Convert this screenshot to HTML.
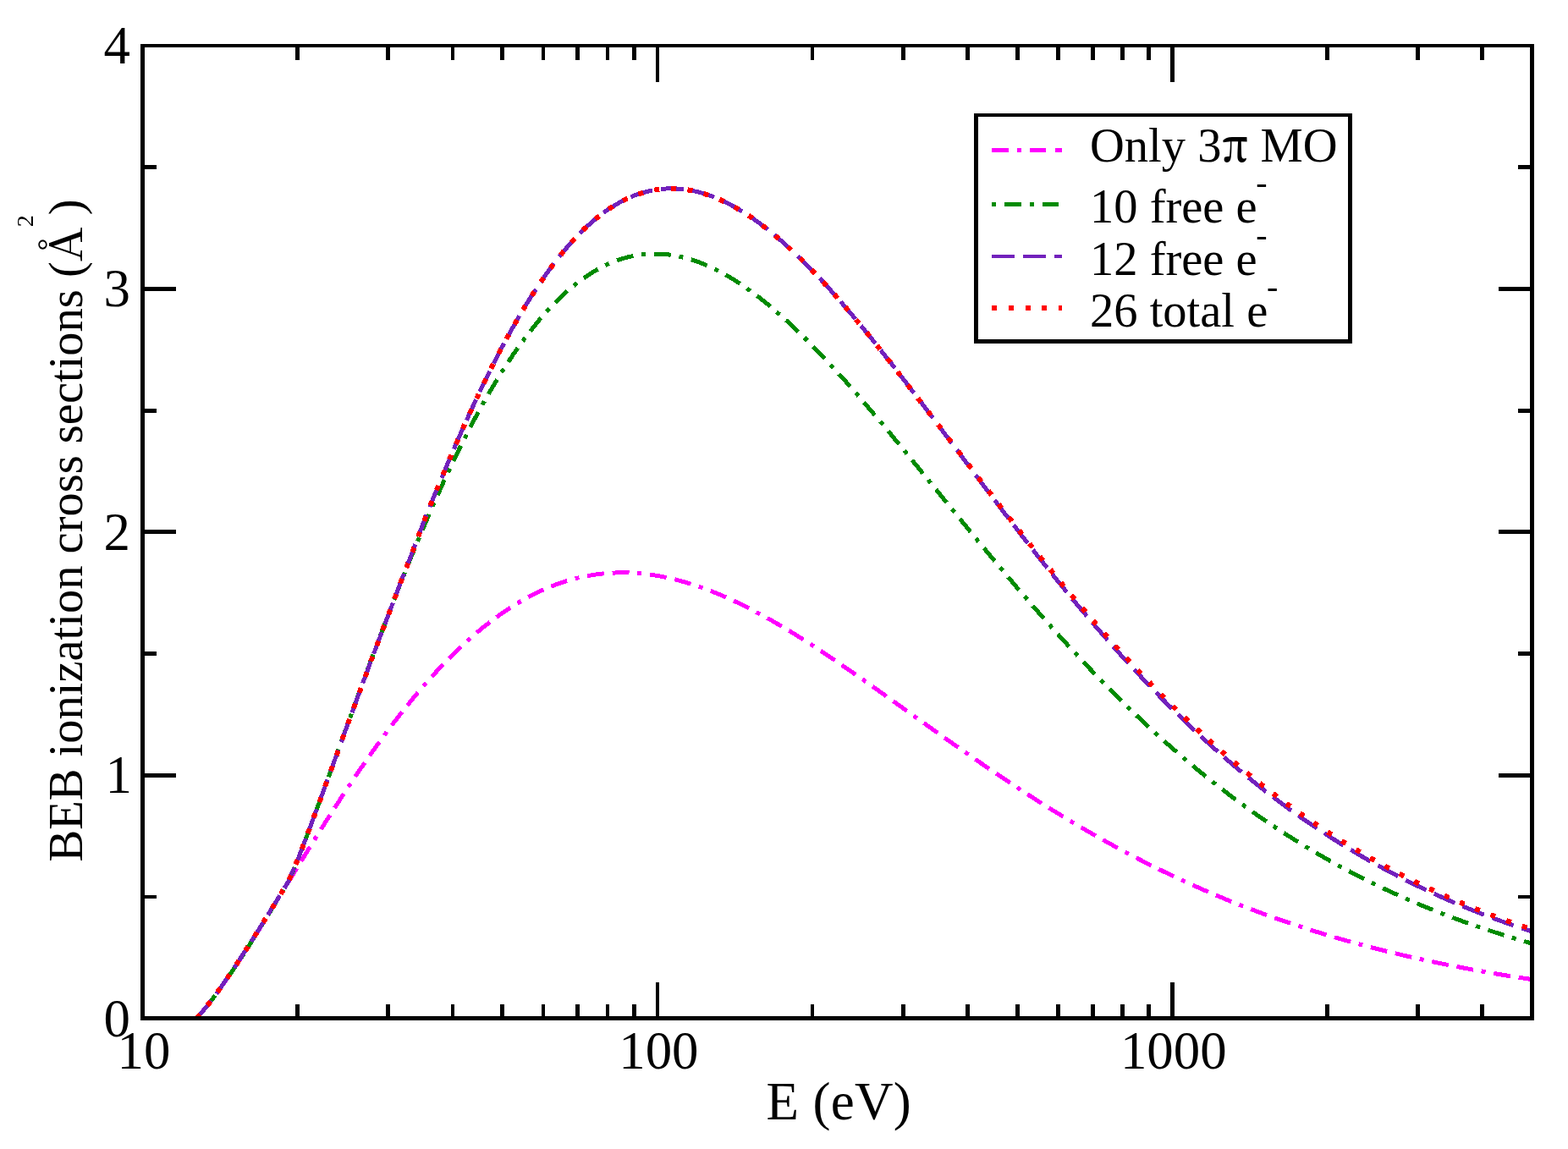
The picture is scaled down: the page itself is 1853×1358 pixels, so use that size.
<!DOCTYPE html>
<html lang="en"><head><meta charset="utf-8"><title>BEB ionization cross sections</title>
<style>
html,body{margin:0;padding:0;background:#fff;}
body{width:1853px;height:1358px;overflow:hidden;}
svg{display:block;}
text{font-family:"Liberation Serif","DejaVu Serif",serif;fill:#000;}
.ax{stroke:#000;fill:none;shape-rendering:crispEdges;}
.cv{fill:none;shape-rendering:crispEdges;stroke-linecap:butt;stroke-linejoin:round;}
.tk{font-size:62.9px;}
.lg{font-size:56.5px;}
</style></head><body>
<svg width="1853" height="1358" viewBox="0 0 1853 1358">
<rect x="0" y="0" width="1853" height="1358" fill="#fff"/>
<defs><clipPath id="plot"><rect x="166" y="52" width="1647" height="1154"/></clipPath></defs>

<g clip-path="url(#plot)">
<path class="cv" d="M232.4,1203.5 L233.9,1201.8 L235.4,1200.1 L236.9,1198.3 L238.4,1196.5 L239.9,1194.7 L241.4,1192.9 L242.9,1191.0 L244.4,1189.2 L245.9,1187.3 L247.4,1185.4 L248.9,1183.4 L250.4,1181.5 L251.9,1179.5 L253.4,1177.5 L254.9,1175.5 L256.4,1173.4 L257.9,1171.4 L259.4,1169.3 L260.9,1167.2 L262.4,1165.1 L263.9,1163.0 L265.4,1160.9 L266.9,1158.8 L268.4,1156.6 L269.9,1154.4 L271.4,1152.2 L272.9,1150.0 L274.4,1147.8 L275.9,1145.6 L277.4,1143.4 L278.9,1141.1 L280.4,1138.9 L281.9,1136.6 L283.4,1134.3 L284.9,1132.0 L286.4,1129.7 L287.9,1127.4 L289.4,1125.1 L290.9,1122.8 L292.4,1120.4 L293.9,1118.1 L295.4,1115.7 L296.9,1113.4 L298.4,1111.0 L299.9,1108.7 L301.4,1106.3 L302.9,1103.9 L304.4,1101.5 L305.9,1099.1 L307.4,1096.7 L308.9,1094.3 L310.4,1091.9 L311.9,1089.5 L313.4,1087.1 L314.9,1084.6 L316.4,1082.2 L317.9,1079.8 L319.4,1077.4 L320.9,1074.9 L322.4,1072.5 L323.9,1070.1 L325.4,1067.6 L326.9,1065.2 L328.4,1062.7 L329.9,1060.3 L331.4,1057.8 L332.9,1055.4 L334.4,1052.9 L335.9,1050.5 L337.4,1048.0 L338.9,1045.6 L340.4,1043.1 L341.9,1040.7 L343.4,1038.2 L344.9,1035.8 L346.4,1033.3 L347.9,1030.9 L349.4,1028.5 L350.9,1026.0 L352.4,1023.6 L353.9,1021.1 L355.4,1018.7 L356.9,1016.3 L358.4,1013.8 L359.9,1011.4 L361.4,1009.0 L362.9,1006.5 L364.4,1004.1 L365.9,1001.7 L367.4,999.3 L368.9,996.9 L370.4,994.5 L371.9,992.0 L373.4,989.6 L374.9,987.2 L376.4,984.9 L377.9,982.5 L379.4,980.1 L380.9,977.7 L382.4,975.3 L383.9,972.9 L385.4,970.6 L386.9,968.2 L388.4,965.9 L389.9,963.5 L391.4,961.2 L392.9,958.8 L394.4,956.5 L395.9,954.2 L397.4,951.8 L398.9,949.5 L400.4,947.2 L401.9,944.9 L403.4,942.6 L404.9,940.3 L406.4,938.0 L407.9,935.7 L409.4,933.5 L410.9,931.2 L412.4,928.9 L413.9,926.7 L415.4,924.4 L416.9,922.2 L418.4,920.0 L419.9,917.7 L421.4,915.5 L422.9,913.3 L424.4,911.1 L425.9,908.9 L427.4,906.7 L428.9,904.5 L430.4,902.4 L431.9,900.2 L433.4,898.0 L434.9,895.9 L436.4,893.8 L437.9,891.6 L439.4,889.5 L440.9,887.4 L442.4,885.3 L443.9,883.2 L445.4,881.1 L446.9,879.0 L448.4,876.9 L449.9,874.9 L451.4,872.8 L452.9,870.8 L454.4,868.7 L455.9,866.7 L457.4,864.7 L458.9,862.7 L460.4,860.7 L461.9,858.7 L463.4,856.7 L464.9,854.7 L466.4,852.8 L467.9,850.8 L469.4,848.9 L470.9,846.9 L472.4,845.0 L473.9,843.1 L475.4,841.2 L476.9,839.3 L478.4,837.4 L479.9,835.5 L481.4,833.7 L482.9,831.8 L484.4,830.0 L485.9,828.1 L487.4,826.3 L488.9,824.5 L490.4,822.7 L491.9,820.9 L493.4,819.1 L494.9,817.3 L496.4,815.6 L497.9,813.8 L499.4,812.1 L500.9,810.3 L502.4,808.6 L503.9,806.9 L505.4,805.2 L506.9,803.5 L508.4,801.8 L509.9,800.2 L511.4,798.5 L512.9,796.8 L514.4,795.2 L515.9,793.6 L517.4,792.0 L518.9,790.4 L520.4,788.8 L521.9,787.2 L523.4,785.6 L524.9,784.0 L526.4,782.5 L527.9,781.0 L529.4,779.4 L530.9,777.9 L532.4,776.4 L533.9,774.9 L535.4,773.4 L536.9,771.9 L538.4,770.5 L539.9,769.0 L541.4,767.6 L542.9,766.2 L544.4,764.7 L545.9,763.3 L547.4,761.9 L548.9,760.6 L550.4,759.2 L551.9,757.8 L553.4,756.5 L554.9,755.1 L556.4,753.8 L557.9,752.5 L559.4,751.2 L560.9,749.9 L562.4,748.6 L563.9,747.3 L565.4,746.1 L566.9,744.8 L568.4,743.6 L569.9,742.4 L571.4,741.1 L572.9,739.9 L574.4,738.8 L575.9,737.6 L577.4,736.4 L578.9,735.3 L580.4,734.1 L581.9,733.0 L583.4,731.9 L584.9,730.7 L586.4,729.6 L587.9,728.6 L589.4,727.5 L590.9,726.4 L592.4,725.4 L593.9,724.3 L595.4,723.3 L596.9,722.3 L598.4,721.3 L599.9,720.3 L601.4,719.3 L602.9,718.3 L604.4,717.4 L605.9,716.4 L607.4,715.5 L608.9,714.5 L610.4,713.6 L611.9,712.7 L613.4,711.8 L614.9,711.0 L616.4,710.1 L617.9,709.2 L619.4,708.4 L620.9,707.6 L622.4,706.7 L623.9,705.9 L625.4,705.1 L626.9,704.3 L628.4,703.6 L629.9,702.8 L631.4,702.1 L632.9,701.3 L634.4,700.6 L635.9,699.9 L637.4,699.2 L638.9,698.5 L640.4,697.8 L641.9,697.1 L643.4,696.4 L644.9,695.8 L646.4,695.2 L647.9,694.5 L649.4,693.9 L650.9,693.3 L652.4,692.7 L653.9,692.1 L655.4,691.6 L656.9,691.0 L658.4,690.4 L659.9,689.9 L661.4,689.4 L662.9,688.9 L664.4,688.4 L665.9,687.9 L667.4,687.4 L668.9,686.9 L670.4,686.5 L671.9,686.0 L673.4,685.6 L674.9,685.1 L676.4,684.7 L677.9,684.3 L679.4,683.9 L680.9,683.6 L682.4,683.2 L683.9,682.8 L685.4,682.5 L686.9,682.1 L688.4,681.8 L689.9,681.5 L691.4,681.2 L692.9,680.9 L694.4,680.6 L695.9,680.3 L697.4,680.1 L698.9,679.8 L700.4,679.6 L701.9,679.3 L703.4,679.1 L704.9,678.9 L706.4,678.7 L707.9,678.5 L709.4,678.3 L710.9,678.2 L712.4,678.0 L713.9,677.8 L715.4,677.7 L716.9,677.6 L718.4,677.5 L719.9,677.4 L721.4,677.3 L722.9,677.2 L724.4,677.1 L725.9,677.0 L727.4,677.0 L728.9,676.9 L730.4,676.9 L731.9,676.9 L733.4,676.8 L734.9,676.8 L736.4,676.8 L737.9,676.8 L739.4,676.9 L740.9,676.9 L742.4,676.9 L743.9,677.0 L745.4,677.0 L746.9,677.1 L748.4,677.2 L749.9,677.3 L751.4,677.4 L752.9,677.5 L754.4,677.6 L755.9,677.7 L757.4,677.9 L758.9,678.0 L760.4,678.2 L761.9,678.3 L763.4,678.5 L764.9,678.7 L766.4,678.9 L767.9,679.1 L769.4,679.3 L770.9,679.5 L772.4,679.7 L773.9,680.0 L775.4,680.2 L776.9,680.5 L778.4,680.7 L779.9,681.0 L781.4,681.3 L782.9,681.6 L784.4,681.9 L785.9,682.2 L787.4,682.5 L788.9,682.8 L790.4,683.1 L791.9,683.5 L793.4,683.8 L794.9,684.2 L796.4,684.5 L797.9,684.9 L799.4,685.3 L800.9,685.7 L802.4,686.1 L803.9,686.5 L805.4,686.9 L806.9,687.3 L808.4,687.7 L809.9,688.2 L811.4,688.6 L812.9,689.1 L814.4,689.5 L815.9,690.0 L817.4,690.5 L818.9,690.9 L820.4,691.4 L821.9,691.9 L823.4,692.4 L824.9,692.9 L826.4,693.5 L827.9,694.0 L829.4,694.5 L830.9,695.1 L832.4,695.6 L833.9,696.2 L835.4,696.7 L836.9,697.3 L838.4,697.9 L839.9,698.4 L841.4,699.0 L842.9,699.6 L844.4,700.2 L845.9,700.8 L847.4,701.4 L848.9,702.1 L850.4,702.7 L851.9,703.3 L853.4,704.0 L854.9,704.6 L856.4,705.3 L857.9,705.9 L859.4,706.6 L860.9,707.3 L862.4,707.9 L863.9,708.6 L865.4,709.3 L866.9,710.0 L868.4,710.7 L869.9,711.4 L871.4,712.1 L872.9,712.9 L874.4,713.6 L875.9,714.3 L877.4,715.0 L878.9,715.8 L880.4,716.5 L881.9,717.3 L883.4,718.0 L884.9,718.8 L886.4,719.6 L887.9,720.3 L889.4,721.1 L890.9,721.9 L892.4,722.7 L893.9,723.5 L895.4,724.3 L896.9,725.1 L898.4,725.9 L899.9,726.7 L901.4,727.5 L902.9,728.4 L904.4,729.2 L905.9,730.0 L907.4,730.9 L908.9,731.7 L910.4,732.6 L911.9,733.4 L913.4,734.3 L914.9,735.1 L916.4,736.0 L917.9,736.9 L919.4,737.7 L920.9,738.6 L922.4,739.5 L923.9,740.4 L925.4,741.3 L926.9,742.2 L928.4,743.1 L929.9,744.0 L931.4,744.9 L932.9,745.8 L934.4,746.7 L935.9,747.6 L937.4,748.5 L938.9,749.4 L940.4,750.4 L941.9,751.3 L943.4,752.2 L944.9,753.2 L946.4,754.1 L947.9,755.0 L949.4,756.0 L950.9,756.9 L952.4,757.9 L953.9,758.9 L955.4,759.8 L956.9,760.8 L958.4,761.7 L959.9,762.7 L961.4,763.7 L962.9,764.7 L964.4,765.6 L965.9,766.6 L967.4,767.6 L968.9,768.6 L970.4,769.6 L971.9,770.6 L973.4,771.6 L974.9,772.6 L976.4,773.6 L977.9,774.6 L979.4,775.6 L980.9,776.6 L982.4,777.6 L983.9,778.6 L985.4,779.6 L986.9,780.6 L988.4,781.6 L989.9,782.6 L991.4,783.7 L992.9,784.7 L994.4,785.7 L995.9,786.7 L997.4,787.8 L998.9,788.8 L1000.4,789.8 L1001.9,790.9 L1003.4,791.9 L1004.9,792.9 L1006.4,794.0 L1007.9,795.0 L1009.4,796.1 L1010.9,797.1 L1012.4,798.1 L1013.9,799.2 L1015.4,800.2 L1016.9,801.3 L1018.4,802.3 L1019.9,803.4 L1021.4,804.4 L1022.9,805.5 L1024.4,806.5 L1025.9,807.6 L1027.4,808.7 L1028.9,809.7 L1030.4,810.8 L1031.9,811.8 L1033.4,812.9 L1034.9,814.0 L1036.4,815.0 L1037.9,816.1 L1039.4,817.2 L1040.9,818.2 L1042.4,819.3 L1043.9,820.4 L1045.4,821.4 L1046.9,822.5 L1048.4,823.6 L1049.9,824.6 L1051.4,825.7 L1052.9,826.8 L1054.4,827.8 L1055.9,828.9 L1057.4,830.0 L1058.9,831.0 L1060.4,832.1 L1061.9,833.2 L1063.4,834.3 L1064.9,835.3 L1066.4,836.4 L1067.9,837.5 L1069.4,838.6 L1070.9,839.6 L1072.4,840.7 L1073.9,841.8 L1075.4,842.8 L1076.9,843.9 L1078.4,845.0 L1079.9,846.1 L1081.4,847.1 L1082.9,848.2 L1084.4,849.3 L1085.9,850.4 L1087.4,851.4 L1088.9,852.5 L1090.4,853.6 L1091.9,854.6 L1093.4,855.7 L1094.9,856.8 L1096.4,857.9 L1097.9,858.9 L1099.4,860.0 L1100.9,861.1 L1102.4,862.1 L1103.9,863.2 L1105.4,864.3 L1106.9,865.3 L1108.4,866.4 L1109.9,867.5 L1111.4,868.5 L1112.9,869.6 L1114.4,870.7 L1115.9,871.7 L1117.4,872.8 L1118.9,873.8 L1120.4,874.9 L1121.9,876.0 L1123.4,877.0 L1124.9,878.1 L1126.4,879.1 L1127.9,880.2 L1129.4,881.2 L1130.9,882.3 L1132.4,883.3 L1133.9,884.4 L1135.4,885.5 L1136.9,886.5 L1138.4,887.5 L1139.9,888.6 L1141.4,889.6 L1142.9,890.7 L1144.4,891.7 L1145.9,892.8 L1147.4,893.8 L1148.9,894.9 L1150.4,895.9 L1151.9,896.9 L1153.4,898.0 L1154.9,899.0 L1156.4,900.0 L1157.9,901.1 L1159.4,902.1 L1160.9,903.1 L1162.4,904.2 L1163.9,905.2 L1165.4,906.2 L1166.9,907.2 L1168.4,908.3 L1169.9,909.3 L1171.4,910.3 L1172.9,911.3 L1174.4,912.3 L1175.9,913.3 L1177.4,914.4 L1178.9,915.4 L1180.4,916.4 L1181.9,917.4 L1183.4,918.4 L1184.9,919.4 L1186.4,920.4 L1187.9,921.4 L1189.4,922.4 L1190.9,923.4 L1192.4,924.4 L1193.9,925.4 L1195.4,926.4 L1196.9,927.4 L1198.4,928.4 L1199.9,929.4 L1201.4,930.3 L1202.9,931.3 L1204.4,932.3 L1205.9,933.3 L1207.4,934.3 L1208.9,935.2 L1210.4,936.2 L1211.9,937.2 L1213.4,938.2 L1214.9,939.1 L1216.4,940.1 L1217.9,941.1 L1219.4,942.0 L1220.9,943.0 L1222.4,943.9 L1223.9,944.9 L1225.4,945.9 L1226.9,946.8 L1228.4,947.8 L1229.9,948.7 L1231.4,949.7 L1232.9,950.6 L1234.4,951.6 L1235.9,952.5 L1237.4,953.4 L1238.9,954.4 L1240.4,955.3 L1241.9,956.2 L1243.4,957.2 L1244.9,958.1 L1246.4,959.0 L1247.9,959.9 L1249.4,960.9 L1250.9,961.8 L1252.4,962.7 L1253.9,963.6 L1255.4,964.5 L1256.9,965.4 L1258.4,966.4 L1259.9,967.3 L1261.4,968.2 L1262.9,969.1 L1264.4,970.0 L1265.9,970.9 L1267.4,971.8 L1268.9,972.7 L1270.4,973.6 L1271.9,974.4 L1273.4,975.3 L1274.9,976.2 L1276.4,977.1 L1277.9,978.0 L1279.4,978.9 L1280.9,979.7 L1282.4,980.6 L1283.9,981.5 L1285.4,982.3 L1286.9,983.2 L1288.4,984.1 L1289.9,984.9 L1291.4,985.8 L1292.9,986.7 L1294.4,987.5 L1295.9,988.4 L1297.4,989.2 L1298.9,990.1 L1300.4,990.9 L1301.9,991.7 L1303.4,992.6 L1304.9,993.4 L1306.4,994.3 L1307.9,995.1 L1309.4,995.9 L1310.9,996.8 L1312.4,997.6 L1313.9,998.4 L1315.4,999.2 L1316.9,1000.1 L1318.4,1000.9 L1319.9,1001.7 L1321.4,1002.5 L1322.9,1003.3 L1324.4,1004.1 L1325.9,1004.9 L1327.4,1005.7 L1328.9,1006.5 L1330.4,1007.3 L1331.9,1008.1 L1333.4,1008.9 L1334.9,1009.7 L1336.4,1010.5 L1337.9,1011.3 L1339.4,1012.1 L1340.9,1012.9 L1342.4,1013.6 L1343.9,1014.4 L1345.4,1015.2 L1346.9,1016.0 L1348.4,1016.7 L1349.9,1017.5 L1351.4,1018.3 L1352.9,1019.0 L1354.4,1019.8 L1355.9,1020.5 L1357.4,1021.3 L1358.9,1022.1 L1360.4,1022.8 L1361.9,1023.6 L1363.4,1024.3 L1364.9,1025.0 L1366.4,1025.8 L1367.9,1026.5 L1369.4,1027.3 L1370.9,1028.0 L1372.4,1028.7 L1373.9,1029.5 L1375.4,1030.2 L1376.9,1030.9 L1378.4,1031.6 L1379.9,1032.4 L1381.4,1033.1 L1382.9,1033.8 L1384.4,1034.5 L1385.9,1035.2 L1387.4,1035.9 L1388.9,1036.6 L1390.4,1037.3 L1391.9,1038.0 L1393.4,1038.7 L1394.9,1039.4 L1396.4,1040.1 L1397.9,1040.8 L1399.4,1041.5 L1400.9,1042.2 L1402.4,1042.9 L1403.9,1043.6 L1405.4,1044.2 L1406.9,1044.9 L1408.4,1045.6 L1409.9,1046.3 L1411.4,1046.9 L1412.9,1047.6 L1414.4,1048.3 L1415.9,1048.9 L1417.4,1049.6 L1418.9,1050.3 L1420.4,1050.9 L1421.9,1051.6 L1423.4,1052.2 L1424.9,1052.9 L1426.4,1053.5 L1427.9,1054.2 L1429.4,1054.8 L1430.9,1055.5 L1432.4,1056.1 L1433.9,1056.7 L1435.4,1057.4 L1436.9,1058.0 L1438.4,1058.6 L1439.9,1059.3 L1441.4,1059.9 L1442.9,1060.5 L1444.4,1061.1 L1445.9,1061.7 L1447.4,1062.4 L1448.9,1063.0 L1450.4,1063.6 L1451.9,1064.2 L1453.4,1064.8 L1454.9,1065.4 L1456.4,1066.0 L1457.9,1066.6 L1459.4,1067.2 L1460.9,1067.8 L1462.4,1068.4 L1463.9,1069.0 L1465.4,1069.6 L1466.9,1070.2 L1468.4,1070.8 L1469.9,1071.3 L1471.4,1071.9 L1472.9,1072.5 L1474.4,1073.1 L1475.9,1073.7 L1477.4,1074.2 L1478.9,1074.8 L1480.4,1075.4 L1481.9,1075.9 L1483.4,1076.5 L1484.9,1077.1 L1486.4,1077.6 L1487.9,1078.2 L1489.4,1078.7 L1490.9,1079.3 L1492.4,1079.8 L1493.9,1080.4 L1495.4,1080.9 L1496.9,1081.5 L1498.4,1082.0 L1499.9,1082.6 L1501.4,1083.1 L1502.9,1083.6 L1504.4,1084.2 L1505.9,1084.7 L1507.4,1085.2 L1508.9,1085.8 L1510.4,1086.3 L1511.9,1086.8 L1513.4,1087.3 L1514.9,1087.9 L1516.4,1088.4 L1517.9,1088.9 L1519.4,1089.4 L1520.9,1089.9 L1522.4,1090.4 L1523.9,1090.9 L1525.4,1091.4 L1526.9,1092.0 L1528.4,1092.5 L1529.9,1093.0 L1531.4,1093.5 L1532.9,1094.0 L1534.4,1094.4 L1535.9,1094.9 L1537.4,1095.4 L1538.9,1095.9 L1540.4,1096.4 L1541.9,1096.9 L1543.4,1097.4 L1544.9,1097.9 L1546.4,1098.3 L1547.9,1098.8 L1549.4,1099.3 L1550.9,1099.8 L1552.4,1100.2 L1553.9,1100.7 L1555.4,1101.2 L1556.9,1101.6 L1558.4,1102.1 L1559.9,1102.6 L1561.4,1103.0 L1562.9,1103.5 L1564.4,1103.9 L1565.9,1104.4 L1567.4,1104.8 L1568.9,1105.3 L1570.4,1105.7 L1571.9,1106.2 L1573.4,1106.6 L1574.9,1107.1 L1576.4,1107.5 L1577.9,1108.0 L1579.4,1108.4 L1580.9,1108.8 L1582.4,1109.3 L1583.9,1109.7 L1585.4,1110.1 L1586.9,1110.6 L1588.4,1111.0 L1589.9,1111.4 L1591.4,1111.8 L1592.9,1112.2 L1594.4,1112.7 L1595.9,1113.1 L1597.4,1113.5 L1598.9,1113.9 L1600.4,1114.3 L1601.9,1114.7 L1603.4,1115.2 L1604.9,1115.6 L1606.4,1116.0 L1607.9,1116.4 L1609.4,1116.8 L1610.9,1117.2 L1612.4,1117.6 L1613.9,1118.0 L1615.4,1118.4 L1616.9,1118.8 L1618.4,1119.2 L1619.9,1119.5 L1621.4,1119.9 L1622.9,1120.3 L1624.4,1120.7 L1625.9,1121.1 L1627.4,1121.5 L1628.9,1121.9 L1630.4,1122.2 L1631.9,1122.6 L1633.4,1123.0 L1634.9,1123.4 L1636.4,1123.7 L1637.9,1124.1 L1639.4,1124.5 L1640.9,1124.9 L1642.4,1125.2 L1643.9,1125.6 L1645.4,1126.0 L1646.9,1126.3 L1648.4,1126.7 L1649.9,1127.0 L1651.4,1127.4 L1652.9,1127.7 L1654.4,1128.1 L1655.9,1128.5 L1657.4,1128.8 L1658.9,1129.2 L1660.4,1129.5 L1661.9,1129.9 L1663.4,1130.2 L1664.9,1130.5 L1666.4,1130.9 L1667.9,1131.2 L1669.4,1131.6 L1670.9,1131.9 L1672.4,1132.2 L1673.9,1132.6 L1675.4,1132.9 L1676.9,1133.2 L1678.4,1133.6 L1679.9,1133.9 L1681.4,1134.2 L1682.9,1134.6 L1684.4,1134.9 L1685.9,1135.2 L1687.4,1135.5 L1688.9,1135.8 L1690.4,1136.2 L1691.9,1136.5 L1693.4,1136.8 L1694.9,1137.1 L1696.4,1137.4 L1697.9,1137.7 L1699.4,1138.1 L1700.9,1138.4 L1702.4,1138.7 L1703.9,1139.0 L1705.4,1139.3 L1706.9,1139.6 L1708.4,1139.9 L1709.9,1140.2 L1711.4,1140.5 L1712.9,1140.8 L1714.4,1141.1 L1715.9,1141.4 L1717.4,1141.7 L1718.9,1142.0 L1720.4,1142.3 L1721.9,1142.6 L1723.4,1142.8 L1724.9,1143.1 L1726.4,1143.4 L1727.9,1143.7 L1729.4,1144.0 L1730.9,1144.3 L1732.4,1144.6 L1733.9,1144.8 L1735.4,1145.1 L1736.9,1145.4 L1738.4,1145.7 L1739.9,1146.0 L1741.4,1146.2 L1742.9,1146.5 L1744.4,1146.8 L1745.9,1147.0 L1747.4,1147.3 L1748.9,1147.6 L1750.4,1147.8 L1751.9,1148.1 L1753.4,1148.4 L1754.9,1148.6 L1756.4,1148.9 L1757.9,1149.2 L1759.4,1149.4 L1760.9,1149.7 L1762.4,1149.9 L1763.9,1150.2 L1765.4,1150.5 L1766.9,1150.7 L1768.4,1151.0 L1769.9,1151.2 L1771.4,1151.5 L1772.9,1151.7 L1774.4,1152.0 L1775.9,1152.2 L1777.4,1152.5 L1778.9,1152.7 L1780.4,1153.0 L1781.9,1153.2 L1783.4,1153.4 L1784.9,1153.7 L1786.4,1153.9 L1787.9,1154.2 L1789.4,1154.4 L1790.9,1154.6 L1792.4,1154.9 L1793.9,1155.1 L1795.4,1155.3 L1796.9,1155.6 L1798.4,1155.8 L1799.9,1156.0 L1801.4,1156.3 L1802.9,1156.5 L1804.4,1156.7 L1805.9,1156.9 L1807.4,1157.2 L1808.9,1157.4 L1810.4,1157.6 L1811.9,1157.8 L1813.4,1158.0" stroke="#ff00ff" stroke-width="5" stroke-dasharray="20 9.785 5 9.785 20 9.784" stroke-dashoffset="0"/>
<path class="cv" d="M232.4,1203.5 L233.9,1201.8 L235.4,1200.1 L236.9,1198.3 L238.4,1196.5 L239.9,1194.7 L241.4,1192.9 L242.9,1191.0 L244.4,1189.2 L245.9,1187.3 L247.4,1185.4 L248.9,1183.4 L250.4,1181.5 L251.9,1179.5 L253.4,1177.5 L254.9,1175.5 L256.4,1173.4 L257.9,1171.4 L259.4,1169.3 L260.9,1167.2 L262.4,1165.1 L263.9,1163.0 L265.4,1160.9 L266.9,1158.8 L268.4,1156.6 L269.9,1154.4 L271.4,1152.2 L272.9,1150.0 L274.4,1147.8 L275.9,1145.6 L277.4,1143.4 L278.9,1141.1 L280.4,1138.9 L281.9,1136.6 L283.4,1134.3 L284.9,1132.0 L286.4,1129.7 L287.9,1127.4 L289.4,1125.1 L290.9,1122.8 L292.4,1120.4 L293.9,1118.1 L295.4,1115.7 L296.9,1113.4 L298.4,1111.0 L299.9,1108.7 L301.4,1106.3 L302.9,1103.9 L304.4,1101.5 L305.9,1099.1 L307.4,1096.7 L308.9,1094.3 L310.4,1091.9 L311.9,1089.5 L313.4,1087.1 L314.9,1084.6 L316.4,1082.2 L317.9,1079.8 L319.4,1077.4 L320.9,1074.9 L322.4,1072.5 L323.9,1070.1 L325.4,1067.6 L326.9,1065.2 L328.4,1062.7 L329.9,1060.3 L331.4,1057.8 L332.9,1055.4 L334.4,1052.9 L335.9,1050.5 L337.4,1048.0 L338.9,1045.6 L340.4,1043.0 L341.9,1039.5 L343.4,1036.1 L344.9,1032.6 L346.4,1029.1 L347.9,1025.6 L349.4,1022.1 L350.9,1018.6 L352.4,1015.0 L353.9,1011.1 L355.4,1007.2 L356.9,1003.2 L358.4,999.3 L359.9,995.3 L361.4,991.3 L362.9,987.3 L364.4,983.3 L365.9,979.3 L367.4,975.2 L368.9,971.2 L370.4,967.1 L371.9,963.1 L373.4,959.0 L374.9,954.9 L376.4,950.8 L377.9,946.7 L379.4,942.6 L380.9,938.5 L382.4,934.4 L383.9,930.3 L385.4,926.2 L386.9,922.0 L388.4,917.9 L389.9,913.8 L391.4,909.6 L392.9,905.5 L394.4,901.3 L395.9,897.2 L397.4,893.1 L398.9,888.9 L400.4,884.8 L401.9,880.6 L403.4,876.5 L404.9,872.3 L406.4,868.2 L407.9,864.1 L409.4,859.9 L410.9,855.8 L412.4,851.6 L413.9,847.5 L415.4,843.4 L416.9,839.3 L418.4,835.1 L419.9,831.0 L421.4,826.9 L422.9,822.8 L424.4,818.7 L425.9,814.6 L427.4,810.5 L428.9,806.4 L430.4,802.4 L431.9,798.3 L433.4,794.2 L434.9,790.2 L436.4,786.1 L437.9,782.1 L439.4,778.1 L440.9,774.0 L442.4,770.0 L443.9,766.0 L445.4,762.0 L446.9,758.0 L448.4,754.0 L449.9,750.1 L451.4,746.1 L452.9,742.2 L454.4,738.2 L455.9,734.3 L457.4,730.4 L458.9,726.5 L460.4,722.6 L461.9,718.7 L463.4,714.8 L464.9,710.9 L466.4,707.1 L467.9,703.3 L469.4,699.4 L470.9,695.6 L472.4,691.8 L473.9,688.0 L475.4,684.3 L476.9,680.5 L478.4,676.7 L479.9,673.0 L481.4,669.3 L482.9,665.6 L484.4,661.9 L485.9,658.2 L487.4,654.6 L488.9,650.9 L490.4,647.3 L491.9,643.7 L493.4,640.1 L494.9,636.5 L496.4,632.9 L497.9,629.3 L499.4,625.8 L500.9,622.3 L502.4,618.7 L503.9,615.3 L505.4,611.8 L506.9,608.3 L508.4,604.9 L509.9,601.4 L511.4,598.0 L512.9,594.6 L514.4,591.2 L515.9,587.9 L517.4,584.5 L518.9,581.2 L520.4,577.9 L521.9,574.6 L523.4,571.3 L524.9,568.0 L526.4,564.8 L527.9,561.6 L529.4,558.4 L530.9,555.2 L532.4,552.0 L533.9,548.9 L535.4,545.7 L536.9,542.6 L538.4,539.5 L539.9,536.4 L541.4,533.4 L542.9,530.3 L544.4,527.3 L545.9,524.3 L547.4,521.3 L548.9,518.3 L550.4,515.4 L551.9,512.4 L553.4,509.5 L554.9,506.6 L556.4,503.8 L557.9,500.9 L559.4,498.1 L560.9,495.2 L562.4,492.4 L563.9,489.7 L565.4,486.9 L566.9,484.2 L568.4,481.5 L569.9,478.8 L571.4,476.1 L572.9,473.4 L574.4,470.8 L575.9,468.1 L577.4,465.5 L578.9,463.0 L580.4,460.4 L581.9,457.9 L583.4,455.3 L584.9,452.8 L586.4,450.4 L587.9,447.9 L589.4,445.5 L590.9,443.0 L592.4,440.6 L593.9,438.3 L595.4,435.9 L596.9,433.6 L598.4,431.2 L599.9,428.9 L601.4,426.7 L602.9,424.4 L604.4,422.2 L605.9,419.9 L607.4,417.7 L608.9,415.6 L610.4,413.4 L611.9,411.3 L613.4,409.2 L614.9,407.1 L616.4,405.0 L617.9,402.9 L619.4,400.9 L620.9,398.9 L622.4,396.9 L623.9,394.9 L625.4,393.0 L626.9,391.1 L628.4,389.2 L629.9,387.3 L631.4,385.4 L632.9,383.6 L634.4,381.7 L635.9,379.9 L637.4,378.1 L638.9,376.4 L640.4,374.6 L641.9,372.9 L643.4,371.2 L644.9,369.5 L646.4,367.9 L647.9,366.2 L649.4,364.6 L650.9,363.0 L652.4,361.4 L653.9,359.9 L655.4,358.4 L656.9,356.8 L658.4,355.3 L659.9,353.9 L661.4,352.4 L662.9,351.0 L664.4,349.6 L665.9,348.2 L667.4,346.8 L668.9,345.5 L670.4,344.1 L671.9,342.8 L673.4,341.5 L674.9,340.3 L676.4,339.0 L677.9,337.8 L679.4,336.6 L680.9,335.4 L682.4,334.2 L683.9,333.1 L685.4,332.0 L686.9,330.9 L688.4,329.8 L689.9,328.7 L691.4,327.7 L692.9,326.6 L694.4,325.6 L695.9,324.6 L697.4,323.7 L698.9,322.7 L700.4,321.8 L701.9,320.9 L703.4,320.0 L704.9,319.1 L706.4,318.3 L707.9,317.5 L709.4,316.7 L710.9,315.9 L712.4,315.1 L713.9,314.4 L715.4,313.6 L716.9,312.9 L718.4,312.2 L719.9,311.6 L721.4,310.9 L722.9,310.3 L724.4,309.7 L725.9,309.1 L727.4,308.5 L728.9,308.0 L730.4,307.4 L731.9,306.9 L733.4,306.4 L734.9,305.9 L736.4,305.5 L737.9,305.0 L739.4,304.6 L740.9,304.2 L742.4,303.8 L743.9,303.5 L745.4,303.1 L746.9,302.8 L748.4,302.5 L749.9,302.2 L751.4,301.9 L752.9,301.6 L754.4,301.4 L755.9,301.2 L757.4,301.0 L758.9,300.8 L760.4,300.6 L761.9,300.5 L763.4,300.4 L764.9,300.3 L766.4,300.2 L767.9,300.1 L769.4,300.0 L770.9,300.0 L772.4,300.0 L773.9,300.0 L775.4,300.0 L776.9,300.0 L778.4,300.0 L779.9,300.1 L781.4,300.2 L782.9,300.3 L784.4,300.4 L785.9,300.5 L787.4,300.7 L788.9,300.8 L790.4,301.0 L791.9,301.2 L793.4,301.4 L794.9,301.7 L796.4,301.9 L797.9,302.2 L799.4,302.4 L800.9,302.7 L802.4,303.0 L803.9,303.4 L805.4,303.7 L806.9,304.1 L808.4,304.4 L809.9,304.8 L811.4,305.2 L812.9,305.7 L814.4,306.1 L815.9,306.6 L817.4,307.0 L818.9,307.5 L820.4,308.0 L821.9,308.5 L823.4,309.0 L824.9,309.6 L826.4,310.1 L827.9,310.7 L829.4,311.3 L830.9,311.9 L832.4,312.5 L833.9,313.1 L835.4,313.8 L836.9,314.4 L838.4,315.1 L839.9,315.8 L841.4,316.5 L842.9,317.2 L844.4,317.9 L845.9,318.7 L847.4,319.4 L848.9,320.2 L850.4,321.0 L851.9,321.8 L853.4,322.6 L854.9,323.4 L856.4,324.2 L857.9,325.1 L859.4,325.9 L860.9,326.8 L862.4,327.7 L863.9,328.6 L865.4,329.5 L866.9,330.4 L868.4,331.4 L869.9,332.3 L871.4,333.3 L872.9,334.3 L874.4,335.2 L875.9,336.2 L877.4,337.2 L878.9,338.3 L880.4,339.3 L881.9,340.3 L883.4,341.4 L884.9,342.5 L886.4,343.5 L887.9,344.6 L889.4,345.7 L890.9,346.8 L892.4,348.0 L893.9,349.1 L895.4,350.2 L896.9,351.4 L898.4,352.6 L899.9,353.7 L901.4,354.9 L902.9,356.1 L904.4,357.3 L905.9,358.6 L907.4,359.8 L908.9,361.0 L910.4,362.3 L911.9,363.5 L913.4,364.8 L914.9,366.1 L916.4,367.4 L917.9,368.6 L919.4,370.0 L920.9,371.3 L922.4,372.6 L923.9,373.9 L925.4,375.3 L926.9,376.6 L928.4,378.0 L929.9,379.3 L931.4,380.7 L932.9,382.1 L934.4,383.5 L935.9,384.9 L937.4,386.3 L938.9,387.7 L940.4,389.2 L941.9,390.6 L943.4,392.0 L944.9,393.5 L946.4,395.0 L947.9,396.4 L949.4,397.9 L950.9,399.4 L952.4,400.9 L953.9,402.4 L955.4,403.9 L956.9,405.4 L958.4,406.9 L959.9,408.4 L961.4,410.0 L962.9,411.5 L964.4,413.1 L965.9,414.6 L967.4,416.2 L968.9,417.7 L970.4,419.3 L971.9,420.9 L973.4,422.5 L974.9,424.1 L976.4,425.7 L977.9,427.3 L979.4,428.9 L980.9,430.5 L982.4,432.1 L983.9,433.7 L985.4,435.4 L986.9,437.0 L988.4,438.7 L989.9,440.3 L991.4,442.0 L992.9,443.6 L994.4,445.3 L995.9,447.0 L997.4,448.6 L998.9,450.3 L1000.4,452.0 L1001.9,453.7 L1003.4,455.4 L1004.9,457.1 L1006.4,458.8 L1007.9,460.5 L1009.4,462.2 L1010.9,463.9 L1012.4,465.6 L1013.9,467.4 L1015.4,469.1 L1016.9,470.8 L1018.4,472.6 L1019.9,474.3 L1021.4,476.0 L1022.9,477.8 L1024.4,479.5 L1025.9,481.3 L1027.4,483.1 L1028.9,484.8 L1030.4,486.6 L1031.9,488.4 L1033.4,490.1 L1034.9,491.9 L1036.4,493.7 L1037.9,495.5 L1039.4,497.2 L1040.9,499.0 L1042.4,500.8 L1043.9,502.6 L1045.4,504.4 L1046.9,506.2 L1048.4,508.0 L1049.9,509.8 L1051.4,511.6 L1052.9,513.4 L1054.4,515.2 L1055.9,517.0 L1057.4,518.9 L1058.9,520.7 L1060.4,522.5 L1061.9,524.3 L1063.4,526.1 L1064.9,527.9 L1066.4,529.8 L1067.9,531.6 L1069.4,533.4 L1070.9,535.3 L1072.4,537.1 L1073.9,538.9 L1075.4,540.7 L1076.9,542.6 L1078.4,544.4 L1079.9,546.3 L1081.4,548.1 L1082.9,549.9 L1084.4,551.8 L1085.9,553.6 L1087.4,555.4 L1088.9,557.3 L1090.4,559.1 L1091.9,561.0 L1093.4,562.8 L1094.9,564.7 L1096.4,566.5 L1097.9,568.4 L1099.4,570.2 L1100.9,572.0 L1102.4,573.9 L1103.9,575.7 L1105.4,577.6 L1106.9,579.4 L1108.4,581.3 L1109.9,583.1 L1111.4,585.0 L1112.9,586.8 L1114.4,588.7 L1115.9,590.5 L1117.4,592.4 L1118.9,594.2 L1120.4,596.0 L1121.9,597.9 L1123.4,599.7 L1124.9,601.6 L1126.4,603.4 L1127.9,605.3 L1129.4,607.1 L1130.9,608.9 L1132.4,610.8 L1133.9,612.6 L1135.4,614.5 L1136.9,616.3 L1138.4,618.1 L1139.9,620.0 L1141.4,621.8 L1142.9,623.6 L1144.4,625.5 L1145.9,627.3 L1147.4,629.1 L1148.9,631.0 L1150.4,632.8 L1151.9,634.6 L1153.4,636.4 L1154.9,638.3 L1156.4,640.1 L1157.9,641.9 L1159.4,643.7 L1160.9,645.6 L1162.4,647.4 L1163.9,649.2 L1165.4,651.0 L1166.9,652.8 L1168.4,654.6 L1169.9,656.4 L1171.4,658.2 L1172.9,660.0 L1174.4,661.8 L1175.9,663.6 L1177.4,665.4 L1178.9,667.2 L1180.4,669.0 L1181.9,670.8 L1183.4,672.6 L1184.9,674.4 L1186.4,676.2 L1187.9,678.0 L1189.4,679.7 L1190.9,681.5 L1192.4,683.3 L1193.9,685.1 L1195.4,686.8 L1196.9,688.6 L1198.4,690.4 L1199.9,692.1 L1201.4,693.9 L1202.9,695.6 L1204.4,697.4 L1205.9,699.2 L1207.4,700.9 L1208.9,702.7 L1210.4,704.4 L1211.9,706.1 L1213.4,707.9 L1214.9,709.6 L1216.4,711.4 L1217.9,713.1 L1219.4,714.8 L1220.9,716.5 L1222.4,718.3 L1223.9,720.0 L1225.4,721.7 L1226.9,723.4 L1228.4,725.1 L1229.9,726.8 L1231.4,728.5 L1232.9,730.2 L1234.4,731.9 L1235.9,733.6 L1237.4,735.3 L1238.9,737.0 L1240.4,738.7 L1241.9,740.4 L1243.4,742.1 L1244.9,743.7 L1246.4,745.4 L1247.9,747.1 L1249.4,748.8 L1250.9,750.4 L1252.4,752.1 L1253.9,753.7 L1255.4,755.4 L1256.9,757.0 L1258.4,758.7 L1259.9,760.3 L1261.4,762.0 L1262.9,763.6 L1264.4,765.2 L1265.9,766.9 L1267.4,768.5 L1268.9,770.1 L1270.4,771.7 L1271.9,773.3 L1273.4,775.0 L1274.9,776.6 L1276.4,778.2 L1277.9,779.8 L1279.4,781.4 L1280.9,783.0 L1282.4,784.5 L1283.9,786.1 L1285.4,787.7 L1286.9,789.3 L1288.4,790.9 L1289.9,792.4 L1291.4,794.0 L1292.9,795.6 L1294.4,797.1 L1295.9,798.7 L1297.4,800.2 L1298.9,801.8 L1300.4,803.3 L1301.9,804.9 L1303.4,806.4 L1304.9,807.9 L1306.4,809.5 L1307.9,811.0 L1309.4,812.5 L1310.9,814.0 L1312.4,815.5 L1313.9,817.1 L1315.4,818.6 L1316.9,820.1 L1318.4,821.6 L1319.9,823.1 L1321.4,824.5 L1322.9,826.0 L1324.4,827.5 L1325.9,829.0 L1327.4,830.5 L1328.9,831.9 L1330.4,833.4 L1331.9,834.9 L1333.4,836.3 L1334.9,837.8 L1336.4,839.2 L1337.9,840.7 L1339.4,842.1 L1340.9,843.5 L1342.4,845.0 L1343.9,846.4 L1345.4,847.8 L1346.9,849.3 L1348.4,850.7 L1349.9,852.1 L1351.4,853.5 L1352.9,854.9 L1354.4,856.3 L1355.9,857.7 L1357.4,859.1 L1358.9,860.5 L1360.4,861.9 L1361.9,863.3 L1363.4,864.6 L1364.9,866.0 L1366.4,867.4 L1367.9,868.7 L1369.4,870.1 L1370.9,871.5 L1372.4,872.8 L1373.9,874.2 L1375.4,875.5 L1376.9,876.8 L1378.4,878.2 L1379.9,879.5 L1381.4,880.8 L1382.9,882.2 L1384.4,883.5 L1385.9,884.8 L1387.4,886.1 L1388.9,887.4 L1390.4,888.7 L1391.9,890.0 L1393.4,891.3 L1394.9,892.6 L1396.4,893.9 L1397.9,895.2 L1399.4,896.5 L1400.9,897.7 L1402.4,899.0 L1403.9,900.3 L1405.4,901.5 L1406.9,902.8 L1408.4,904.1 L1409.9,905.3 L1411.4,906.6 L1412.9,907.8 L1414.4,909.0 L1415.9,910.3 L1417.4,911.5 L1418.9,912.7 L1420.4,913.9 L1421.9,915.2 L1423.4,916.4 L1424.9,917.6 L1426.4,918.8 L1427.9,920.0 L1429.4,921.2 L1430.9,922.4 L1432.4,923.6 L1433.9,924.8 L1435.4,925.9 L1436.9,927.1 L1438.4,928.3 L1439.9,929.5 L1441.4,930.6 L1442.9,931.8 L1444.4,933.0 L1445.9,934.1 L1447.4,935.3 L1448.9,936.4 L1450.4,937.5 L1451.9,938.7 L1453.4,939.8 L1454.9,941.0 L1456.4,942.1 L1457.9,943.2 L1459.4,944.3 L1460.9,945.4 L1462.4,946.5 L1463.9,947.6 L1465.4,948.8 L1466.9,949.9 L1468.4,950.9 L1469.9,952.0 L1471.4,953.1 L1472.9,954.2 L1474.4,955.3 L1475.9,956.4 L1477.4,957.4 L1478.9,958.5 L1480.4,959.6 L1481.9,960.6 L1483.4,961.7 L1484.9,962.7 L1486.4,963.8 L1487.9,964.8 L1489.4,965.9 L1490.9,966.9 L1492.4,967.9 L1493.9,969.0 L1495.4,970.0 L1496.9,971.0 L1498.4,972.0 L1499.9,973.0 L1501.4,974.1 L1502.9,975.1 L1504.4,976.1 L1505.9,977.1 L1507.4,978.1 L1508.9,979.1 L1510.4,980.0 L1511.9,981.0 L1513.4,982.0 L1514.9,983.0 L1516.4,984.0 L1517.9,984.9 L1519.4,985.9 L1520.9,986.9 L1522.4,987.8 L1523.9,988.8 L1525.4,989.7 L1526.9,990.7 L1528.4,991.6 L1529.9,992.6 L1531.4,993.5 L1532.9,994.4 L1534.4,995.4 L1535.9,996.3 L1537.4,997.2 L1538.9,998.1 L1540.4,999.0 L1541.9,1000.0 L1543.4,1000.9 L1544.9,1001.8 L1546.4,1002.7 L1547.9,1003.6 L1549.4,1004.5 L1550.9,1005.4 L1552.4,1006.2 L1553.9,1007.1 L1555.4,1008.0 L1556.9,1008.9 L1558.4,1009.8 L1559.9,1010.6 L1561.4,1011.5 L1562.9,1012.4 L1564.4,1013.2 L1565.9,1014.1 L1567.4,1014.9 L1568.9,1015.8 L1570.4,1016.6 L1571.9,1017.5 L1573.4,1018.3 L1574.9,1019.1 L1576.4,1020.0 L1577.9,1020.8 L1579.4,1021.6 L1580.9,1022.5 L1582.4,1023.3 L1583.9,1024.1 L1585.4,1024.9 L1586.9,1025.7 L1588.4,1026.5 L1589.9,1027.3 L1591.4,1028.1 L1592.9,1028.9 L1594.4,1029.7 L1595.9,1030.5 L1597.4,1031.3 L1598.9,1032.1 L1600.4,1032.9 L1601.9,1033.6 L1603.4,1034.4 L1604.9,1035.2 L1606.4,1036.0 L1607.9,1036.7 L1609.4,1037.5 L1610.9,1038.2 L1612.4,1039.0 L1613.9,1039.8 L1615.4,1040.5 L1616.9,1041.3 L1618.4,1042.0 L1619.9,1042.7 L1621.4,1043.5 L1622.9,1044.2 L1624.4,1044.9 L1625.9,1045.7 L1627.4,1046.4 L1628.9,1047.1 L1630.4,1047.8 L1631.9,1048.6 L1633.4,1049.3 L1634.9,1050.0 L1636.4,1050.7 L1637.9,1051.4 L1639.4,1052.1 L1640.9,1052.8 L1642.4,1053.5 L1643.9,1054.2 L1645.4,1054.9 L1646.9,1055.6 L1648.4,1056.2 L1649.9,1056.9 L1651.4,1057.6 L1652.9,1058.3 L1654.4,1058.9 L1655.9,1059.6 L1657.4,1060.3 L1658.9,1060.9 L1660.4,1061.6 L1661.9,1062.3 L1663.4,1062.9 L1664.9,1063.6 L1666.4,1064.2 L1667.9,1064.9 L1669.4,1065.5 L1670.9,1066.2 L1672.4,1066.8 L1673.9,1067.4 L1675.4,1068.1 L1676.9,1068.7 L1678.4,1069.3 L1679.9,1070.0 L1681.4,1070.6 L1682.9,1071.2 L1684.4,1071.8 L1685.9,1072.4 L1687.4,1073.0 L1688.9,1073.7 L1690.4,1074.3 L1691.9,1074.9 L1693.4,1075.5 L1694.9,1076.1 L1696.4,1076.7 L1697.9,1077.3 L1699.4,1077.9 L1700.9,1078.4 L1702.4,1079.0 L1703.9,1079.6 L1705.4,1080.2 L1706.9,1080.8 L1708.4,1081.4 L1709.9,1081.9 L1711.4,1082.5 L1712.9,1083.1 L1714.4,1083.6 L1715.9,1084.2 L1717.4,1084.8 L1718.9,1085.3 L1720.4,1085.9 L1721.9,1086.4 L1723.4,1087.0 L1724.9,1087.5 L1726.4,1088.1 L1727.9,1088.6 L1729.4,1089.2 L1730.9,1089.7 L1732.4,1090.2 L1733.9,1090.8 L1735.4,1091.3 L1736.9,1091.8 L1738.4,1092.4 L1739.9,1092.9 L1741.4,1093.4 L1742.9,1093.9 L1744.4,1094.5 L1745.9,1095.0 L1747.4,1095.5 L1748.9,1096.0 L1750.4,1096.5 L1751.9,1097.0 L1753.4,1097.5 L1754.9,1098.0 L1756.4,1098.5 L1757.9,1099.0 L1759.4,1099.5 L1760.9,1100.0 L1762.4,1100.5 L1763.9,1101.0 L1765.4,1101.5 L1766.9,1102.0 L1768.4,1102.5 L1769.9,1102.9 L1771.4,1103.4 L1772.9,1103.9 L1774.4,1104.4 L1775.9,1104.8 L1777.4,1105.3 L1778.9,1105.8 L1780.4,1106.2 L1781.9,1106.7 L1783.4,1107.2 L1784.9,1107.6 L1786.4,1108.1 L1787.9,1108.5 L1789.4,1109.0 L1790.9,1109.5 L1792.4,1109.9 L1793.9,1110.3 L1795.4,1110.8 L1796.9,1111.2 L1798.4,1111.7 L1799.9,1112.1 L1801.4,1112.6 L1802.9,1113.0 L1804.4,1113.4 L1805.9,1113.9 L1807.4,1114.3 L1808.9,1114.7 L1810.4,1115.1 L1811.9,1115.6 L1813.4,1116.0" stroke="#008b00" stroke-width="5" stroke-dasharray="5 9.82 20 9.821" stroke-dashoffset="0"/>
<path class="cv" d="M232.4,1203.5 L233.9,1201.8 L235.4,1200.1 L236.9,1198.3 L238.4,1196.6 L239.9,1194.8 L241.4,1192.9 L242.9,1191.1 L244.4,1189.2 L245.9,1187.3 L247.4,1185.4 L248.9,1183.4 L250.4,1181.4 L251.9,1179.4 L253.4,1177.4 L254.9,1175.3 L256.4,1173.3 L257.9,1171.2 L259.4,1169.1 L260.9,1167.0 L262.4,1164.8 L263.9,1162.7 L265.4,1160.5 L266.9,1158.4 L268.4,1156.2 L269.9,1154.0 L271.4,1151.8 L272.9,1149.6 L274.4,1147.3 L275.9,1145.1 L277.4,1142.8 L278.9,1140.6 L280.4,1138.3 L281.9,1136.0 L283.4,1133.7 L284.9,1131.4 L286.4,1129.1 L287.9,1126.8 L289.4,1124.5 L290.9,1122.1 L292.4,1119.8 L293.9,1117.5 L295.4,1115.1 L296.9,1112.7 L298.4,1110.4 L299.9,1108.0 L301.4,1105.6 L302.9,1103.2 L304.4,1100.8 L305.9,1098.5 L307.4,1096.1 L308.9,1093.7 L310.4,1091.2 L311.9,1088.8 L313.4,1086.4 L314.9,1084.0 L316.4,1081.6 L317.9,1079.2 L319.4,1076.7 L320.9,1074.3 L322.4,1071.9 L323.9,1069.5 L325.4,1067.0 L326.9,1064.6 L328.4,1062.2 L329.9,1059.7 L331.4,1057.3 L332.9,1054.9 L334.4,1052.4 L335.9,1050.0 L337.4,1047.6 L338.9,1045.1 L340.4,1042.5 L341.9,1039.1 L343.4,1035.6 L344.9,1032.2 L346.4,1028.7 L347.9,1025.2 L349.4,1021.7 L350.9,1018.2 L352.4,1014.7 L353.9,1010.8 L355.4,1006.9 L356.9,1003.0 L358.4,999.0 L359.9,995.0 L361.4,991.1 L362.9,987.1 L364.4,983.1 L365.9,979.1 L367.4,975.1 L368.9,971.0 L370.4,967.0 L371.9,963.0 L373.4,958.9 L374.9,954.8 L376.4,950.8 L377.9,946.7 L379.4,942.6 L380.9,938.5 L382.4,934.4 L383.9,930.3 L385.4,926.2 L386.9,922.1 L388.4,918.0 L389.9,913.9 L391.4,909.8 L392.9,905.7 L394.4,901.5 L395.9,897.4 L397.4,893.3 L398.9,889.1 L400.4,885.0 L401.9,880.9 L403.4,876.8 L404.9,872.6 L406.4,868.5 L407.9,864.4 L409.4,860.3 L410.9,856.1 L412.4,852.0 L413.9,847.9 L415.4,843.8 L416.9,839.7 L418.4,835.6 L419.9,831.5 L421.4,827.4 L422.9,823.3 L424.4,819.2 L425.9,815.1 L427.4,811.0 L428.9,806.9 L430.4,802.9 L431.9,798.8 L433.4,794.8 L434.9,790.7 L436.4,786.7 L437.9,782.6 L439.4,778.6 L440.9,774.6 L442.4,770.6 L443.9,766.6 L445.4,762.6 L446.9,758.6 L448.4,754.6 L449.9,750.6 L451.4,746.7 L452.9,742.7 L454.4,738.7 L455.9,734.8 L457.4,730.8 L458.9,726.9 L460.4,722.9 L461.9,718.9 L463.4,715.0 L464.9,711.0 L466.4,707.0 L467.9,703.1 L469.4,699.1 L470.9,695.2 L472.4,691.2 L473.9,687.3 L475.4,683.4 L476.9,679.5 L478.4,675.6 L479.9,671.7 L481.4,667.8 L482.9,664.0 L484.4,660.1 L485.9,656.3 L487.4,652.4 L488.9,648.3 L490.4,644.3 L491.9,640.2 L493.4,636.2 L494.9,632.3 L496.4,628.3 L497.9,624.4 L499.4,620.5 L500.9,616.7 L502.4,612.8 L503.9,609.0 L505.4,605.2 L506.9,601.5 L508.4,597.8 L509.9,594.0 L511.4,590.4 L512.9,586.7 L514.4,583.0 L515.9,579.4 L517.4,575.7 L518.9,572.1 L520.4,568.5 L521.9,564.9 L523.4,561.3 L524.9,557.7 L526.4,554.1 L527.9,550.6 L529.4,547.0 L530.9,543.5 L532.4,540.0 L533.9,536.5 L535.4,533.0 L536.9,529.5 L538.4,526.1 L539.9,522.6 L541.4,519.2 L542.9,515.8 L544.4,512.3 L545.9,509.0 L547.4,505.6 L548.9,502.2 L550.4,498.9 L551.9,495.5 L553.4,492.2 L554.9,488.9 L556.4,485.6 L557.9,482.4 L559.4,479.1 L560.9,475.9 L562.4,472.7 L563.9,469.5 L565.4,466.3 L566.9,463.1 L568.4,460.0 L569.9,456.8 L571.4,453.7 L572.9,450.6 L574.4,447.5 L575.9,444.5 L577.4,441.4 L578.9,438.4 L580.4,435.4 L581.9,432.4 L583.4,429.4 L584.9,426.5 L586.4,423.6 L587.9,420.6 L589.4,417.7 L590.9,414.9 L592.4,412.0 L593.9,409.2 L595.4,406.4 L596.9,403.6 L598.4,400.8 L599.9,398.0 L601.4,395.3 L602.9,392.6 L604.4,389.9 L605.9,387.2 L607.4,384.5 L608.9,381.9 L610.4,379.3 L611.9,376.7 L613.4,374.1 L614.9,371.5 L616.4,369.0 L617.9,366.5 L619.4,364.0 L620.9,361.5 L622.4,359.0 L623.9,356.6 L625.4,354.2 L626.9,351.8 L628.4,349.4 L629.9,347.1 L631.4,344.8 L632.9,342.5 L634.4,340.2 L635.9,337.9 L637.4,335.7 L638.9,333.5 L640.4,331.3 L641.9,329.1 L643.4,326.9 L644.9,324.8 L646.4,322.7 L647.9,320.6 L649.4,318.5 L650.9,316.5 L652.4,314.5 L653.9,312.5 L655.4,310.5 L656.9,308.5 L658.4,306.6 L659.9,304.7 L661.4,302.8 L662.9,301.0 L664.4,299.1 L665.9,297.3 L667.4,295.5 L668.9,293.7 L670.4,292.0 L671.9,290.3 L673.4,288.6 L674.9,286.9 L676.4,285.2 L677.9,283.6 L679.4,282.0 L680.9,280.4 L682.4,278.8 L683.9,277.2 L685.4,275.7 L686.9,274.2 L688.4,272.7 L689.9,271.3 L691.4,269.8 L692.9,268.4 L694.4,267.0 L695.9,265.7 L697.4,264.3 L698.9,263.0 L700.4,261.7 L701.9,260.4 L703.4,259.2 L704.9,257.9 L706.4,256.7 L707.9,255.5 L709.4,254.4 L710.9,253.2 L712.4,252.1 L713.9,251.0 L715.4,249.9 L716.9,248.9 L718.4,247.8 L719.9,246.8 L721.4,245.8 L722.9,244.8 L724.4,243.9 L725.9,243.0 L727.4,242.1 L728.9,241.2 L730.4,240.3 L731.9,239.5 L733.4,238.7 L734.9,237.9 L736.4,237.1 L737.9,236.3 L739.4,235.6 L740.9,234.9 L742.4,234.2 L743.9,233.5 L745.4,232.9 L746.9,232.2 L748.4,231.6 L749.9,231.0 L751.4,230.5 L752.9,229.9 L754.4,229.4 L755.9,228.9 L757.4,228.4 L758.9,228.0 L760.4,227.5 L761.9,227.1 L763.4,226.7 L764.9,226.3 L766.4,226.0 L767.9,225.6 L769.4,225.3 L770.9,225.0 L772.4,224.7 L773.9,224.5 L775.4,224.2 L776.9,224.0 L778.4,223.8 L779.9,223.6 L781.4,223.4 L782.9,223.3 L784.4,223.2 L785.9,223.1 L787.4,223.0 L788.9,222.9 L790.4,222.9 L791.9,222.9 L793.4,222.8 L794.9,222.9 L796.4,222.9 L797.9,222.9 L799.4,223.0 L800.9,223.1 L802.4,223.2 L803.9,223.3 L805.4,223.5 L806.9,223.6 L808.4,223.8 L809.9,224.0 L811.4,224.2 L812.9,224.4 L814.4,224.7 L815.9,225.0 L817.4,225.2 L818.9,225.5 L820.4,225.9 L821.9,226.2 L823.4,226.6 L824.9,226.9 L826.4,227.3 L827.9,227.7 L829.4,228.1 L830.9,228.6 L832.4,229.0 L833.9,229.5 L835.4,230.0 L836.9,230.5 L838.4,231.0 L839.9,231.6 L841.4,232.1 L842.9,232.7 L844.4,233.3 L845.9,233.9 L847.4,234.5 L848.9,235.2 L850.4,235.8 L851.9,236.5 L853.4,237.2 L854.9,237.9 L856.4,238.6 L857.9,239.3 L859.4,240.1 L860.9,240.8 L862.4,241.6 L863.9,242.4 L865.4,243.2 L866.9,244.0 L868.4,244.8 L869.9,245.7 L871.4,246.6 L872.9,247.4 L874.4,248.3 L875.9,249.2 L877.4,250.2 L878.9,251.1 L880.4,252.0 L881.9,253.0 L883.4,254.0 L884.9,255.0 L886.4,256.0 L887.9,257.0 L889.4,258.0 L890.9,259.1 L892.4,260.1 L893.9,261.2 L895.4,262.3 L896.9,263.4 L898.4,264.5 L899.9,265.6 L901.4,266.7 L902.9,267.9 L904.4,269.0 L905.9,270.2 L907.4,271.4 L908.9,272.6 L910.4,273.8 L911.9,275.0 L913.4,276.2 L914.9,277.5 L916.4,278.7 L917.9,280.0 L919.4,281.3 L920.9,282.6 L922.4,283.9 L923.9,285.2 L925.4,286.5 L926.9,287.8 L928.4,289.2 L929.9,290.5 L931.4,291.9 L932.9,293.3 L934.4,294.7 L935.9,296.1 L937.4,297.5 L938.9,298.9 L940.4,300.3 L941.9,301.7 L943.4,303.2 L944.9,304.6 L946.4,306.1 L947.9,307.6 L949.4,309.1 L950.9,310.6 L952.4,312.1 L953.9,313.6 L955.4,315.1 L956.9,316.6 L958.4,318.2 L959.9,319.7 L961.4,321.3 L962.9,322.9 L964.4,324.4 L965.9,326.0 L967.4,327.6 L968.9,329.2 L970.4,330.8 L971.9,332.4 L973.4,334.1 L974.9,335.7 L976.4,337.3 L977.9,339.0 L979.4,340.6 L980.9,342.3 L982.4,344.0 L983.9,345.6 L985.4,347.3 L986.9,349.0 L988.4,350.7 L989.9,352.4 L991.4,354.1 L992.9,355.9 L994.4,357.6 L995.9,359.3 L997.4,361.1 L998.9,362.8 L1000.4,364.6 L1001.9,366.3 L1003.4,368.1 L1004.9,369.9 L1006.4,371.6 L1007.9,373.4 L1009.4,375.2 L1010.9,377.0 L1012.4,378.8 L1013.9,380.6 L1015.4,382.4 L1016.9,384.2 L1018.4,386.1 L1019.9,387.9 L1021.4,389.7 L1022.9,391.6 L1024.4,393.4 L1025.9,395.2 L1027.4,397.1 L1028.9,399.0 L1030.4,400.8 L1031.9,402.7 L1033.4,404.6 L1034.9,406.4 L1036.4,408.3 L1037.9,410.2 L1039.4,412.1 L1040.9,414.0 L1042.4,415.9 L1043.9,417.8 L1045.4,419.7 L1046.9,421.6 L1048.4,423.5 L1049.9,425.4 L1051.4,427.3 L1052.9,429.2 L1054.4,431.2 L1055.9,433.1 L1057.4,435.0 L1058.9,437.0 L1060.4,438.9 L1061.9,440.8 L1063.4,442.8 L1064.9,444.7 L1066.4,446.7 L1067.9,448.6 L1069.4,450.6 L1070.9,452.5 L1072.4,454.5 L1073.9,456.5 L1075.4,458.4 L1076.9,460.4 L1078.4,462.4 L1079.9,464.3 L1081.4,466.3 L1082.9,468.3 L1084.4,470.2 L1085.9,472.2 L1087.4,474.2 L1088.9,476.2 L1090.4,478.2 L1091.9,480.1 L1093.4,482.1 L1094.9,484.1 L1096.4,486.1 L1097.9,488.1 L1099.4,490.1 L1100.9,492.1 L1102.4,494.1 L1103.9,496.1 L1105.4,498.1 L1106.9,500.1 L1108.4,502.1 L1109.9,504.1 L1111.4,506.1 L1112.9,508.1 L1114.4,510.1 L1115.9,512.1 L1117.4,514.1 L1118.9,516.1 L1120.4,518.1 L1121.9,520.1 L1123.4,522.1 L1124.9,524.1 L1126.4,526.1 L1127.9,528.1 L1129.4,530.1 L1130.9,532.1 L1132.4,534.1 L1133.9,536.1 L1135.4,538.1 L1136.9,540.1 L1138.4,542.1 L1139.9,544.1 L1141.4,546.1 L1142.9,548.1 L1144.4,550.1 L1145.9,552.1 L1147.4,554.1 L1148.9,556.1 L1150.4,558.1 L1151.9,560.1 L1153.4,562.1 L1154.9,564.0 L1156.4,566.0 L1157.9,568.0 L1159.4,570.0 L1160.9,572.0 L1162.4,574.0 L1163.9,576.0 L1165.4,578.0 L1166.9,580.0 L1168.4,581.9 L1169.9,583.9 L1171.4,585.9 L1172.9,587.9 L1174.4,589.9 L1175.9,591.8 L1177.4,593.8 L1178.9,595.8 L1180.4,597.8 L1181.9,599.7 L1183.4,601.7 L1184.9,603.7 L1186.4,605.6 L1187.9,607.6 L1189.4,609.5 L1190.9,611.5 L1192.4,613.5 L1193.9,615.4 L1195.4,617.4 L1196.9,619.3 L1198.4,621.3 L1199.9,623.2 L1201.4,625.1 L1202.9,627.1 L1204.4,629.0 L1205.9,631.0 L1207.4,632.9 L1208.9,634.8 L1210.4,636.7 L1211.9,638.7 L1213.4,640.6 L1214.9,642.5 L1216.4,644.4 L1217.9,646.4 L1219.4,648.3 L1220.9,650.2 L1222.4,652.1 L1223.9,654.0 L1225.4,655.9 L1226.9,657.8 L1228.4,659.7 L1229.9,661.6 L1231.4,663.5 L1232.9,665.4 L1234.4,667.2 L1235.9,669.1 L1237.4,671.0 L1238.9,672.9 L1240.4,674.7 L1241.9,676.6 L1243.4,678.5 L1244.9,680.3 L1246.4,682.2 L1247.9,684.1 L1249.4,685.9 L1250.9,687.8 L1252.4,689.6 L1253.9,691.4 L1255.4,693.3 L1256.9,695.1 L1258.4,697.0 L1259.9,698.8 L1261.4,700.6 L1262.9,702.4 L1264.4,704.2 L1265.9,706.1 L1267.4,707.9 L1268.9,709.7 L1270.4,711.5 L1271.9,713.3 L1273.4,715.1 L1274.9,716.9 L1276.4,718.7 L1277.9,720.5 L1279.4,722.2 L1280.9,724.0 L1282.4,725.8 L1283.9,727.6 L1285.4,729.3 L1286.9,731.1 L1288.4,732.9 L1289.9,734.6 L1291.4,736.4 L1292.9,738.1 L1294.4,739.9 L1295.9,741.6 L1297.4,743.3 L1298.9,745.1 L1300.4,746.8 L1301.9,748.5 L1303.4,750.2 L1304.9,752.0 L1306.4,753.7 L1307.9,755.4 L1309.4,757.1 L1310.9,758.8 L1312.4,760.5 L1313.9,762.2 L1315.4,763.9 L1316.9,765.5 L1318.4,767.2 L1319.9,768.9 L1321.4,770.6 L1322.9,772.2 L1324.4,773.9 L1325.9,775.6 L1327.4,777.2 L1328.9,778.9 L1330.4,780.5 L1331.9,782.2 L1333.4,783.8 L1334.9,785.4 L1336.4,787.1 L1337.9,788.7 L1339.4,790.3 L1340.9,791.9 L1342.4,793.5 L1343.9,795.1 L1345.4,796.7 L1346.9,798.3 L1348.4,799.9 L1349.9,801.5 L1351.4,803.1 L1352.9,804.7 L1354.4,806.3 L1355.9,807.9 L1357.4,809.4 L1358.9,811.0 L1360.4,812.6 L1361.9,814.1 L1363.4,815.7 L1364.9,817.2 L1366.4,818.8 L1367.9,820.3 L1369.4,821.8 L1370.9,823.4 L1372.4,824.9 L1373.9,826.4 L1375.4,827.9 L1376.9,829.4 L1378.4,831.0 L1379.9,832.5 L1381.4,834.0 L1382.9,835.4 L1384.4,836.9 L1385.9,838.4 L1387.4,839.9 L1388.9,841.4 L1390.4,842.9 L1391.9,844.3 L1393.4,845.8 L1394.9,847.3 L1396.4,848.7 L1397.9,850.2 L1399.4,851.6 L1400.9,853.1 L1402.4,854.5 L1403.9,855.9 L1405.4,857.4 L1406.9,858.8 L1408.4,860.2 L1409.9,861.6 L1411.4,863.0 L1412.9,864.4 L1414.4,865.8 L1415.9,867.2 L1417.4,868.6 L1418.9,870.0 L1420.4,871.4 L1421.9,872.8 L1423.4,874.2 L1424.9,875.5 L1426.4,876.9 L1427.9,878.3 L1429.4,879.6 L1430.9,881.0 L1432.4,882.3 L1433.9,883.7 L1435.4,885.0 L1436.9,886.3 L1438.4,887.7 L1439.9,889.0 L1441.4,890.3 L1442.9,891.6 L1444.4,893.0 L1445.9,894.3 L1447.4,895.6 L1448.9,896.9 L1450.4,898.2 L1451.9,899.5 L1453.4,900.8 L1454.9,902.0 L1456.4,903.3 L1457.9,904.6 L1459.4,905.9 L1460.9,907.1 L1462.4,908.4 L1463.9,909.6 L1465.4,910.9 L1466.9,912.1 L1468.4,913.4 L1469.9,914.6 L1471.4,915.9 L1472.9,917.1 L1474.4,918.3 L1475.9,919.6 L1477.4,920.8 L1478.9,922.0 L1480.4,923.2 L1481.9,924.4 L1483.4,925.6 L1484.9,926.8 L1486.4,928.0 L1487.9,929.2 L1489.4,930.4 L1490.9,931.6 L1492.4,932.7 L1493.9,933.9 L1495.4,935.1 L1496.9,936.2 L1498.4,937.4 L1499.9,938.5 L1501.4,939.7 L1502.9,940.8 L1504.4,942.0 L1505.9,943.1 L1507.4,944.3 L1508.9,945.4 L1510.4,946.5 L1511.9,947.6 L1513.4,948.8 L1514.9,949.9 L1516.4,951.0 L1517.9,952.1 L1519.4,953.2 L1520.9,954.3 L1522.4,955.4 L1523.9,956.5 L1525.4,957.6 L1526.9,958.6 L1528.4,959.7 L1529.9,960.8 L1531.4,961.9 L1532.9,962.9 L1534.4,964.0 L1535.9,965.0 L1537.4,966.1 L1538.9,967.2 L1540.4,968.2 L1541.9,969.2 L1543.4,970.3 L1544.9,971.3 L1546.4,972.3 L1547.9,973.4 L1549.4,974.4 L1550.9,975.4 L1552.4,976.4 L1553.9,977.4 L1555.4,978.4 L1556.9,979.4 L1558.4,980.4 L1559.9,981.4 L1561.4,982.4 L1562.9,983.4 L1564.4,984.4 L1565.9,985.4 L1567.4,986.3 L1568.9,987.3 L1570.4,988.3 L1571.9,989.3 L1573.4,990.2 L1574.9,991.2 L1576.4,992.1 L1577.9,993.1 L1579.4,994.0 L1580.9,995.0 L1582.4,995.9 L1583.9,996.8 L1585.4,997.8 L1586.9,998.7 L1588.4,999.6 L1589.9,1000.5 L1591.4,1001.4 L1592.9,1002.4 L1594.4,1003.3 L1595.9,1004.2 L1597.4,1005.1 L1598.9,1006.0 L1600.4,1006.9 L1601.9,1007.8 L1603.4,1008.6 L1604.9,1009.5 L1606.4,1010.4 L1607.9,1011.3 L1609.4,1012.2 L1610.9,1013.0 L1612.4,1013.9 L1613.9,1014.7 L1615.4,1015.6 L1616.9,1016.5 L1618.4,1017.3 L1619.9,1018.2 L1621.4,1019.0 L1622.9,1019.8 L1624.4,1020.7 L1625.9,1021.5 L1627.4,1022.4 L1628.9,1023.2 L1630.4,1024.0 L1631.9,1024.8 L1633.4,1025.6 L1634.9,1026.5 L1636.4,1027.3 L1637.9,1028.1 L1639.4,1028.9 L1640.9,1029.7 L1642.4,1030.5 L1643.9,1031.3 L1645.4,1032.1 L1646.9,1032.8 L1648.4,1033.6 L1649.9,1034.4 L1651.4,1035.2 L1652.9,1036.0 L1654.4,1036.7 L1655.9,1037.5 L1657.4,1038.3 L1658.9,1039.0 L1660.4,1039.8 L1661.9,1040.5 L1663.4,1041.3 L1664.9,1042.0 L1666.4,1042.8 L1667.9,1043.5 L1669.4,1044.3 L1670.9,1045.0 L1672.4,1045.7 L1673.9,1046.5 L1675.4,1047.2 L1676.9,1047.9 L1678.4,1048.6 L1679.9,1049.4 L1681.4,1050.1 L1682.9,1050.8 L1684.4,1051.5 L1685.9,1052.2 L1687.4,1052.9 L1688.9,1053.6 L1690.4,1054.3 L1691.9,1055.0 L1693.4,1055.7 L1694.9,1056.4 L1696.4,1057.0 L1697.9,1057.7 L1699.4,1058.4 L1700.9,1059.1 L1702.4,1059.7 L1703.9,1060.4 L1705.4,1061.1 L1706.9,1061.7 L1708.4,1062.4 L1709.9,1063.1 L1711.4,1063.7 L1712.9,1064.4 L1714.4,1065.0 L1715.9,1065.7 L1717.4,1066.3 L1718.9,1067.0 L1720.4,1067.6 L1721.9,1068.2 L1723.4,1068.9 L1724.9,1069.5 L1726.4,1070.1 L1727.9,1070.7 L1729.4,1071.4 L1730.9,1072.0 L1732.4,1072.6 L1733.9,1073.2 L1735.4,1073.8 L1736.9,1074.4 L1738.4,1075.0 L1739.9,1075.6 L1741.4,1076.2 L1742.9,1076.8 L1744.4,1077.4 L1745.9,1078.0 L1747.4,1078.6 L1748.9,1079.2 L1750.4,1079.8 L1751.9,1080.4 L1753.4,1080.9 L1754.9,1081.5 L1756.4,1082.1 L1757.9,1082.7 L1759.4,1083.2 L1760.9,1083.8 L1762.4,1084.4 L1763.9,1084.9 L1765.4,1085.5 L1766.9,1086.0 L1768.4,1086.6 L1769.9,1087.1 L1771.4,1087.7 L1772.9,1088.2 L1774.4,1088.8 L1775.9,1089.3 L1777.4,1089.9 L1778.9,1090.4 L1780.4,1090.9 L1781.9,1091.5 L1783.4,1092.0 L1784.9,1092.5 L1786.4,1093.0 L1787.9,1093.6 L1789.4,1094.1 L1790.9,1094.6 L1792.4,1095.1 L1793.9,1095.6 L1795.4,1096.1 L1796.9,1096.6 L1798.4,1097.1 L1799.9,1097.6 L1801.4,1098.1 L1802.9,1098.6 L1804.4,1099.1 L1805.9,1099.6 L1807.4,1100.1 L1808.9,1100.6 L1810.4,1101.1 L1811.9,1101.6 L1813.4,1102.1" stroke="#7221bc" stroke-width="5" stroke-dasharray="27 10.11" stroke-dashoffset="0"/>
<path class="cv" d="M232.4,1203.5 L233.9,1201.8 L235.4,1200.1 L236.9,1198.3 L238.4,1196.6 L239.9,1194.8 L241.4,1192.9 L242.9,1191.1 L244.4,1189.2 L245.9,1187.3 L247.4,1185.4 L248.9,1183.4 L250.4,1181.4 L251.9,1179.4 L253.4,1177.4 L254.9,1175.3 L256.4,1173.3 L257.9,1171.2 L259.4,1169.1 L260.9,1167.0 L262.4,1164.8 L263.9,1162.7 L265.4,1160.5 L266.9,1158.4 L268.4,1156.2 L269.9,1154.0 L271.4,1151.8 L272.9,1149.6 L274.4,1147.3 L275.9,1145.1 L277.4,1142.8 L278.9,1140.6 L280.4,1138.3 L281.9,1136.0 L283.4,1133.7 L284.9,1131.4 L286.4,1129.1 L287.9,1126.8 L289.4,1124.5 L290.9,1122.1 L292.4,1119.8 L293.9,1117.5 L295.4,1115.1 L296.9,1112.7 L298.4,1110.4 L299.9,1108.0 L301.4,1105.6 L302.9,1103.2 L304.4,1100.8 L305.9,1098.5 L307.4,1096.1 L308.9,1093.7 L310.4,1091.2 L311.9,1088.8 L313.4,1086.4 L314.9,1084.0 L316.4,1081.6 L317.9,1079.2 L319.4,1076.7 L320.9,1074.3 L322.4,1071.9 L323.9,1069.5 L325.4,1067.0 L326.9,1064.6 L328.4,1062.2 L329.9,1059.7 L331.4,1057.3 L332.9,1054.9 L334.4,1052.4 L335.9,1050.0 L337.4,1047.6 L338.9,1045.1 L340.4,1042.5 L341.9,1039.1 L343.4,1035.6 L344.9,1032.2 L346.4,1028.7 L347.9,1025.2 L349.4,1021.7 L350.9,1018.2 L352.4,1014.7 L353.9,1010.8 L355.4,1006.9 L356.9,1003.0 L358.4,999.0 L359.9,995.0 L361.4,991.1 L362.9,987.1 L364.4,983.1 L365.9,979.1 L367.4,975.1 L368.9,971.0 L370.4,967.0 L371.9,963.0 L373.4,958.9 L374.9,954.8 L376.4,950.8 L377.9,946.7 L379.4,942.6 L380.9,938.5 L382.4,934.4 L383.9,930.3 L385.4,926.2 L386.9,922.1 L388.4,918.0 L389.9,913.9 L391.4,909.8 L392.9,905.7 L394.4,901.5 L395.9,897.4 L397.4,893.3 L398.9,889.1 L400.4,885.0 L401.9,880.9 L403.4,876.8 L404.9,872.6 L406.4,868.5 L407.9,864.4 L409.4,860.3 L410.9,856.1 L412.4,852.0 L413.9,847.9 L415.4,843.8 L416.9,839.7 L418.4,835.6 L419.9,831.5 L421.4,827.4 L422.9,823.3 L424.4,819.2 L425.9,815.1 L427.4,811.0 L428.9,806.9 L430.4,802.9 L431.9,798.8 L433.4,794.8 L434.9,790.7 L436.4,786.7 L437.9,782.6 L439.4,778.6 L440.9,774.6 L442.4,770.6 L443.9,766.6 L445.4,762.6 L446.9,758.6 L448.4,754.6 L449.9,750.6 L451.4,746.7 L452.9,742.7 L454.4,738.7 L455.9,734.8 L457.4,730.8 L458.9,726.9 L460.4,722.9 L461.9,718.9 L463.4,715.0 L464.9,711.0 L466.4,707.0 L467.9,703.1 L469.4,699.1 L470.9,695.2 L472.4,691.2 L473.9,687.3 L475.4,683.4 L476.9,679.5 L478.4,675.6 L479.9,671.7 L481.4,667.8 L482.9,664.0 L484.4,660.1 L485.9,656.3 L487.4,652.4 L488.9,648.3 L490.4,644.3 L491.9,640.2 L493.4,636.2 L494.9,632.3 L496.4,628.3 L497.9,624.4 L499.4,620.5 L500.9,616.7 L502.4,612.8 L503.9,609.0 L505.4,605.2 L506.9,601.5 L508.4,597.8 L509.9,594.0 L511.4,590.4 L512.9,586.7 L514.4,583.0 L515.9,579.4 L517.4,575.7 L518.9,572.1 L520.4,568.5 L521.9,564.9 L523.4,561.3 L524.9,557.7 L526.4,554.1 L527.9,550.6 L529.4,547.0 L530.9,543.5 L532.4,540.0 L533.9,536.5 L535.4,533.0 L536.9,529.5 L538.4,526.1 L539.9,522.6 L541.4,519.2 L542.9,515.8 L544.4,512.3 L545.9,509.0 L547.4,505.6 L548.9,502.2 L550.4,498.9 L551.9,495.5 L553.4,492.2 L554.9,488.9 L556.4,485.6 L557.9,482.4 L559.4,479.1 L560.9,475.9 L562.4,472.7 L563.9,469.5 L565.4,466.3 L566.9,463.1 L568.4,460.0 L569.9,456.8 L571.4,453.7 L572.9,450.6 L574.4,447.5 L575.9,444.5 L577.4,441.4 L578.9,438.4 L580.4,435.4 L581.9,432.4 L583.4,429.4 L584.9,426.5 L586.4,423.6 L587.9,420.6 L589.4,417.7 L590.9,414.9 L592.4,412.0 L593.9,409.2 L595.4,406.4 L596.9,403.6 L598.4,400.8 L599.9,398.0 L601.4,395.3 L602.9,392.6 L604.4,389.9 L605.9,387.2 L607.4,384.5 L608.9,381.9 L610.4,379.3 L611.9,376.7 L613.4,374.1 L614.9,371.5 L616.4,369.0 L617.9,366.5 L619.4,364.0 L620.9,361.5 L622.4,359.0 L623.9,356.6 L625.4,354.2 L626.9,351.8 L628.4,349.4 L629.9,347.1 L631.4,344.8 L632.9,342.5 L634.4,340.2 L635.9,337.9 L637.4,335.7 L638.9,333.5 L640.4,331.3 L641.9,329.1 L643.4,326.9 L644.9,324.8 L646.4,322.7 L647.9,320.6 L649.4,318.5 L650.9,316.5 L652.4,314.5 L653.9,312.5 L655.4,310.5 L656.9,308.5 L658.4,306.6 L659.9,304.7 L661.4,302.8 L662.9,301.0 L664.4,299.1 L665.9,297.3 L667.4,295.5 L668.9,293.7 L670.4,292.0 L671.9,290.3 L673.4,288.6 L674.9,286.9 L676.4,285.2 L677.9,283.6 L679.4,282.0 L680.9,280.4 L682.4,278.8 L683.9,277.2 L685.4,275.7 L686.9,274.2 L688.4,272.7 L689.9,271.3 L691.4,269.8 L692.9,268.4 L694.4,267.0 L695.9,265.7 L697.4,264.3 L698.9,263.0 L700.4,261.7 L701.9,260.4 L703.4,259.2 L704.9,257.9 L706.4,256.7 L707.9,255.5 L709.4,254.4 L710.9,253.2 L712.4,252.1 L713.9,251.0 L715.4,249.9 L716.9,248.9 L718.4,247.8 L719.9,246.8 L721.4,245.8 L722.9,244.8 L724.4,243.9 L725.9,243.0 L727.4,242.1 L728.9,241.2 L730.4,240.3 L731.9,239.5 L733.4,238.7 L734.9,237.9 L736.4,237.1 L737.9,236.3 L739.4,235.6 L740.9,234.9 L742.4,234.2 L743.9,233.5 L745.4,232.9 L746.9,232.2 L748.4,231.6 L749.9,231.0 L751.4,230.5 L752.9,229.9 L754.4,229.4 L755.9,228.9 L757.4,228.4 L758.9,228.0 L760.4,227.5 L761.9,227.1 L763.4,226.7 L764.9,226.3 L766.4,226.0 L767.9,225.6 L769.4,225.3 L770.9,225.0 L772.4,224.7 L773.9,224.5 L775.4,224.2 L776.9,224.0 L778.4,223.8 L779.9,223.6 L781.4,223.4 L782.9,223.3 L784.4,223.2 L785.9,223.1 L787.4,223.0 L788.9,222.9 L790.4,222.9 L791.9,222.9 L793.4,222.8 L794.9,222.9 L796.4,222.9 L797.9,222.9 L799.4,223.0 L800.9,223.1 L802.4,223.2 L803.9,223.3 L805.4,223.5 L806.9,223.6 L808.4,223.8 L809.9,224.0 L811.4,224.2 L812.9,224.4 L814.4,224.7 L815.9,225.0 L817.4,225.2 L818.9,225.5 L820.4,225.9 L821.9,226.2 L823.4,226.6 L824.9,226.9 L826.4,227.3 L827.9,227.7 L829.4,228.1 L830.9,228.6 L832.4,229.0 L833.9,229.5 L835.4,230.0 L836.9,230.5 L838.4,231.0 L839.9,231.6 L841.4,232.1 L842.9,232.7 L844.4,233.3 L845.9,233.9 L847.4,234.5 L848.9,235.2 L850.4,235.8 L851.9,236.5 L853.4,237.2 L854.9,237.9 L856.4,238.6 L857.9,239.3 L859.4,240.1 L860.9,240.8 L862.4,241.6 L863.9,242.4 L865.4,243.2 L866.9,244.0 L868.4,244.8 L869.9,245.7 L871.4,246.6 L872.9,247.4 L874.4,248.3 L875.9,249.2 L877.4,250.2 L878.9,251.1 L880.4,252.0 L881.9,253.0 L883.4,254.0 L884.9,255.0 L886.4,256.0 L887.9,257.0 L889.4,258.0 L890.9,259.1 L892.4,260.1 L893.9,261.2 L895.4,262.3 L896.9,263.4 L898.4,264.5 L899.9,265.6 L901.4,266.7 L902.9,267.9 L904.4,269.0 L905.9,270.2 L907.4,271.4 L908.9,272.6 L910.4,273.8 L911.9,275.0 L913.4,276.2 L914.9,277.5 L916.4,278.7 L917.9,280.0 L919.4,281.3 L920.9,282.6 L922.4,283.9 L923.9,285.2 L925.4,286.5 L926.9,287.8 L928.4,289.2 L929.9,290.5 L931.4,291.9 L932.9,293.3 L934.4,294.7 L935.9,296.1 L937.4,297.5 L938.9,298.9 L940.4,300.3 L941.9,301.7 L943.4,303.2 L944.9,304.6 L946.4,306.1 L947.9,307.6 L949.4,309.1 L950.9,310.6 L952.4,312.1 L953.9,313.6 L955.4,315.1 L956.9,316.6 L958.4,318.2 L959.9,319.7 L961.4,321.3 L962.9,322.9 L964.4,324.4 L965.9,326.0 L967.4,327.6 L968.9,329.2 L970.4,330.8 L971.9,332.4 L973.4,334.1 L974.9,335.7 L976.4,337.3 L977.9,339.0 L979.4,340.6 L980.9,342.3 L982.4,344.0 L983.9,345.6 L985.4,347.3 L986.9,349.0 L988.4,350.7 L989.9,352.4 L991.4,354.1 L992.9,355.9 L994.4,357.6 L995.9,359.3 L997.4,361.1 L998.9,362.8 L1000.4,364.6 L1001.9,366.3 L1003.4,368.1 L1004.9,369.9 L1006.4,371.6 L1007.9,373.4 L1009.4,375.2 L1010.9,377.0 L1012.4,378.8 L1013.9,380.6 L1015.4,382.4 L1016.9,384.2 L1018.4,386.1 L1019.9,387.9 L1021.4,389.7 L1022.9,391.6 L1024.4,393.4 L1025.9,395.2 L1027.4,397.1 L1028.9,399.0 L1030.4,400.8 L1031.9,402.7 L1033.4,404.6 L1034.9,406.4 L1036.4,408.3 L1037.9,410.2 L1039.4,412.1 L1040.9,414.0 L1042.4,415.9 L1043.9,417.8 L1045.4,419.7 L1046.9,421.6 L1048.4,423.5 L1049.9,425.4 L1051.4,427.3 L1052.9,429.2 L1054.4,431.2 L1055.9,433.1 L1057.4,435.0 L1058.9,437.0 L1060.4,438.9 L1061.9,440.8 L1063.4,442.8 L1064.9,444.7 L1066.4,446.7 L1067.9,448.6 L1069.4,450.6 L1070.9,452.5 L1072.4,454.5 L1073.9,456.5 L1075.4,458.4 L1076.9,460.4 L1078.4,462.4 L1079.9,464.3 L1081.4,466.3 L1082.9,468.3 L1084.4,470.2 L1085.9,472.2 L1087.4,474.1 L1088.9,476.1 L1090.4,478.1 L1091.9,480.0 L1093.4,482.0 L1094.9,483.9 L1096.4,485.9 L1097.9,487.9 L1099.4,489.8 L1100.9,491.8 L1102.4,493.8 L1103.9,495.8 L1105.4,497.7 L1106.9,499.7 L1108.4,501.7 L1109.9,503.6 L1111.4,505.6 L1112.9,507.6 L1114.4,509.6 L1115.9,511.5 L1117.4,513.5 L1118.9,515.5 L1120.4,517.5 L1121.9,519.4 L1123.4,521.4 L1124.9,523.4 L1126.4,525.4 L1127.9,527.3 L1129.4,529.3 L1130.9,531.3 L1132.4,533.3 L1133.9,535.3 L1135.4,537.2 L1136.9,539.2 L1138.4,541.2 L1139.9,543.2 L1141.4,545.1 L1142.9,547.1 L1144.4,549.1 L1145.9,551.0 L1147.4,553.0 L1148.9,555.0 L1150.4,557.0 L1151.9,558.9 L1153.4,560.9 L1154.9,562.9 L1156.4,564.8 L1157.9,566.8 L1159.4,568.8 L1160.9,570.7 L1162.4,572.7 L1163.9,574.6 L1165.4,576.6 L1166.9,578.6 L1168.4,580.5 L1169.9,582.5 L1171.4,584.4 L1172.9,586.4 L1174.4,588.3 L1175.9,590.3 L1177.4,592.2 L1178.9,594.2 L1180.4,596.1 L1181.9,598.1 L1183.4,600.0 L1184.9,601.9 L1186.4,603.9 L1187.9,605.8 L1189.4,607.7 L1190.9,609.7 L1192.4,611.6 L1193.9,613.5 L1195.4,615.5 L1196.9,617.4 L1198.4,619.3 L1199.9,621.2 L1201.4,623.2 L1202.9,625.1 L1204.4,627.0 L1205.9,628.9 L1207.4,630.8 L1208.9,632.7 L1210.4,634.6 L1211.9,636.5 L1213.4,638.4 L1214.9,640.3 L1216.4,642.2 L1217.9,644.1 L1219.4,646.0 L1220.9,647.9 L1222.4,649.8 L1223.9,651.6 L1225.4,653.5 L1226.9,655.4 L1228.4,657.3 L1229.9,659.1 L1231.4,661.0 L1232.9,662.9 L1234.4,664.7 L1235.9,666.6 L1237.4,668.4 L1238.9,670.3 L1240.4,672.1 L1241.9,674.0 L1243.4,675.8 L1244.9,677.7 L1246.4,679.5 L1247.9,681.3 L1249.4,683.2 L1250.9,685.0 L1252.4,686.8 L1253.9,688.7 L1255.4,690.5 L1256.9,692.3 L1258.4,694.1 L1259.9,695.9 L1261.4,697.7 L1262.9,699.5 L1264.4,701.3 L1265.9,703.1 L1267.4,704.9 L1268.9,706.7 L1270.4,708.5 L1271.9,710.3 L1273.4,712.0 L1274.9,713.8 L1276.4,715.6 L1277.9,717.4 L1279.4,719.1 L1280.9,720.9 L1282.4,722.6 L1283.9,724.4 L1285.4,726.1 L1286.9,727.9 L1288.4,729.6 L1289.9,731.4 L1291.4,733.1 L1292.9,734.8 L1294.4,736.6 L1295.9,738.3 L1297.4,740.0 L1298.9,741.7 L1300.4,743.4 L1301.9,745.1 L1303.4,746.8 L1304.9,748.6 L1306.4,750.2 L1307.9,751.9 L1309.4,753.6 L1310.9,755.3 L1312.4,757.0 L1313.9,758.7 L1315.4,760.4 L1316.9,762.0 L1318.4,763.7 L1319.9,765.3 L1321.4,767.0 L1322.9,768.7 L1324.4,770.3 L1325.9,772.0 L1327.4,773.6 L1328.9,775.2 L1330.4,776.9 L1331.9,778.5 L1333.4,780.1 L1334.9,781.7 L1336.4,783.4 L1337.9,785.0 L1339.4,786.6 L1340.9,788.2 L1342.4,789.8 L1343.9,791.4 L1345.4,793.0 L1346.9,794.6 L1348.4,796.2 L1349.9,797.7 L1351.4,799.3 L1352.9,800.9 L1354.4,802.5 L1355.9,804.0 L1357.4,805.6 L1358.9,807.1 L1360.4,808.7 L1361.9,810.2 L1363.4,811.8 L1364.9,813.3 L1366.4,814.8 L1367.9,816.4 L1369.4,817.9 L1370.9,819.4 L1372.4,820.9 L1373.9,822.5 L1375.4,824.0 L1376.9,825.5 L1378.4,827.0 L1379.9,828.5 L1381.4,830.0 L1382.9,831.4 L1384.4,832.9 L1385.9,834.4 L1387.4,835.9 L1388.9,837.4 L1390.4,838.8 L1391.9,840.3 L1393.4,841.7 L1394.9,843.2 L1396.4,844.6 L1397.9,846.1 L1399.4,847.5 L1400.9,849.0 L1402.4,850.4 L1403.9,851.8 L1405.4,853.2 L1406.9,854.7 L1408.4,856.1 L1409.9,857.5 L1411.4,858.9 L1412.9,860.3 L1414.4,861.7 L1415.9,863.1 L1417.4,864.5 L1418.9,865.9 L1420.4,867.2 L1421.9,868.6 L1423.4,870.0 L1424.9,871.4 L1426.4,872.7 L1427.9,874.1 L1429.4,875.4 L1430.9,876.8 L1432.4,878.1 L1433.9,879.5 L1435.4,880.8 L1436.9,882.1 L1438.4,883.5 L1439.9,884.8 L1441.4,886.1 L1442.9,887.4 L1444.4,888.7 L1445.9,890.1 L1447.4,891.4 L1448.9,892.7 L1450.4,894.0 L1451.9,895.2 L1453.4,896.5 L1454.9,897.8 L1456.4,899.1 L1457.9,900.4 L1459.4,901.6 L1460.9,902.9 L1462.4,904.2 L1463.9,905.4 L1465.4,906.7 L1466.9,907.9 L1468.4,909.2 L1469.9,910.4 L1471.4,911.6 L1472.9,912.9 L1474.4,914.1 L1475.9,915.3 L1477.4,916.5 L1478.9,917.8 L1480.4,919.0 L1481.9,920.2 L1483.4,921.4 L1484.9,922.6 L1486.4,923.8 L1487.9,925.0 L1489.4,926.1 L1490.9,927.3 L1492.4,928.5 L1493.9,929.7 L1495.4,930.8 L1496.9,932.0 L1498.4,933.2 L1499.9,934.3 L1501.4,935.5 L1502.9,936.6 L1504.4,937.8 L1505.9,938.9 L1507.4,940.1 L1508.9,941.2 L1510.4,942.3 L1511.9,943.4 L1513.4,944.6 L1514.9,945.7 L1516.4,946.8 L1517.9,947.9 L1519.4,949.0 L1520.9,950.1 L1522.4,951.2 L1523.9,952.3 L1525.4,953.4 L1526.9,954.5 L1528.4,955.5 L1529.9,956.6 L1531.4,957.7 L1532.9,958.8 L1534.4,959.8 L1535.9,960.9 L1537.4,961.9 L1538.9,963.0 L1540.4,964.1 L1541.9,965.1 L1543.4,966.1 L1544.9,967.2 L1546.4,968.2 L1547.9,969.2 L1549.4,970.3 L1550.9,971.3 L1552.4,972.3 L1553.9,973.3 L1555.4,974.3 L1556.9,975.3 L1558.4,976.3 L1559.9,977.3 L1561.4,978.3 L1562.9,979.3 L1564.4,980.3 L1565.9,981.3 L1567.4,982.3 L1568.9,983.3 L1570.4,984.2 L1571.9,985.2 L1573.4,986.2 L1574.9,987.1 L1576.4,988.1 L1577.9,989.0 L1579.4,990.0 L1580.9,990.9 L1582.4,991.9 L1583.9,992.8 L1585.4,993.8 L1586.9,994.7 L1588.4,995.6 L1589.9,996.6 L1591.4,997.5 L1592.9,998.4 L1594.4,999.3 L1595.9,1000.2 L1597.4,1001.1 L1598.9,1002.0 L1600.4,1002.9 L1601.9,1003.8 L1603.4,1004.7 L1604.9,1005.6 L1606.4,1006.5 L1607.9,1007.4 L1609.4,1008.3 L1610.9,1009.1 L1612.4,1010.0 L1613.9,1010.9 L1615.4,1011.7 L1616.9,1012.6 L1618.4,1013.5 L1619.9,1014.3 L1621.4,1015.2 L1622.9,1016.0 L1624.4,1016.9 L1625.9,1017.7 L1627.4,1018.5 L1628.9,1019.4 L1630.4,1020.2 L1631.9,1021.0 L1633.4,1021.9 L1634.9,1022.7 L1636.4,1023.5 L1637.9,1024.3 L1639.4,1025.1 L1640.9,1025.9 L1642.4,1026.7 L1643.9,1027.5 L1645.4,1028.3 L1646.9,1029.1 L1648.4,1029.9 L1649.9,1030.7 L1651.4,1031.5 L1652.9,1032.3 L1654.4,1033.1 L1655.9,1033.8 L1657.4,1034.6 L1658.9,1035.4 L1660.4,1036.1 L1661.9,1036.9 L1663.4,1037.7 L1664.9,1038.4 L1666.4,1039.2 L1667.9,1039.9 L1669.4,1040.7 L1670.9,1041.4 L1672.4,1042.2 L1673.9,1042.9 L1675.4,1043.6 L1676.9,1044.4 L1678.4,1045.1 L1679.9,1045.8 L1681.4,1046.5 L1682.9,1047.3 L1684.4,1048.0 L1685.9,1048.7 L1687.4,1049.4 L1688.9,1050.1 L1690.4,1050.8 L1691.9,1051.5 L1693.4,1052.2 L1694.9,1052.9 L1696.4,1053.6 L1697.9,1054.3 L1699.4,1055.0 L1700.9,1055.7 L1702.4,1056.3 L1703.9,1057.0 L1705.4,1057.7 L1706.9,1058.4 L1708.4,1059.0 L1709.9,1059.7 L1711.4,1060.4 L1712.9,1061.0 L1714.4,1061.7 L1715.9,1062.3 L1717.4,1063.0 L1718.9,1063.6 L1720.4,1064.3 L1721.9,1064.9 L1723.4,1065.6 L1724.9,1066.2 L1726.4,1066.8 L1727.9,1067.5 L1729.4,1068.1 L1730.9,1068.7 L1732.4,1069.4 L1733.9,1070.0 L1735.4,1070.6 L1736.9,1071.2 L1738.4,1071.8 L1739.9,1072.4 L1741.4,1073.1 L1742.9,1073.7 L1744.4,1074.3 L1745.9,1074.9 L1747.4,1075.5 L1748.9,1076.1 L1750.4,1076.7 L1751.9,1077.2 L1753.4,1077.8 L1754.9,1078.4 L1756.4,1079.0 L1757.9,1079.6 L1759.4,1080.2 L1760.9,1080.7 L1762.4,1081.3 L1763.9,1081.9 L1765.4,1082.4 L1766.9,1083.0 L1768.4,1083.6 L1769.9,1084.1 L1771.4,1084.7 L1772.9,1085.2 L1774.4,1085.8 L1775.9,1086.3 L1777.4,1086.9 L1778.9,1087.4 L1780.4,1088.0 L1781.9,1088.5 L1783.4,1089.1 L1784.9,1089.6 L1786.4,1090.1 L1787.9,1090.7 L1789.4,1091.2 L1790.9,1091.7 L1792.4,1092.2 L1793.9,1092.7 L1795.4,1093.3 L1796.9,1093.8 L1798.4,1094.3 L1799.9,1094.8 L1801.4,1095.3 L1802.9,1095.8 L1804.4,1096.3 L1805.9,1096.8 L1807.4,1097.3 L1808.9,1097.8 L1810.4,1098.3 L1811.9,1098.8 L1813.4,1099.3" stroke="#ff0000" stroke-width="6" stroke-dasharray="6 13.698" stroke-dashoffset="0"/>
</g>
<g fill="#000" shape-rendering="crispEdges">
<rect x="166" y="52" width="1647" height="4"/>
<rect x="166" y="1201" width="1647" height="5"/>
<rect x="166" y="52" width="5" height="1154"/>
<rect x="1808" y="52" width="5" height="1154"/>
<rect x="349" y="52" width="5" height="19"/>
<rect x="349" y="1187" width="5" height="19"/>
<rect x="456" y="52" width="5" height="19"/>
<rect x="456" y="1187" width="5" height="19"/>
<rect x="533" y="52" width="4" height="19"/>
<rect x="533" y="1187" width="4" height="19"/>
<rect x="591" y="52" width="5" height="19"/>
<rect x="591" y="1187" width="5" height="19"/>
<rect x="640" y="52" width="4" height="19"/>
<rect x="640" y="1187" width="4" height="19"/>
<rect x="680" y="52" width="5" height="19"/>
<rect x="680" y="1187" width="5" height="19"/>
<rect x="716" y="52" width="4" height="19"/>
<rect x="716" y="1187" width="4" height="19"/>
<rect x="747" y="52" width="5" height="19"/>
<rect x="747" y="1187" width="5" height="19"/>
<rect x="775" y="52" width="4" height="45"/>
<rect x="775" y="1161" width="4" height="45"/>
<rect x="958" y="52" width="4" height="19"/>
<rect x="958" y="1187" width="4" height="19"/>
<rect x="1065" y="52" width="5" height="19"/>
<rect x="1065" y="1187" width="5" height="19"/>
<rect x="1141" y="52" width="5" height="19"/>
<rect x="1141" y="1187" width="5" height="19"/>
<rect x="1200" y="52" width="5" height="19"/>
<rect x="1200" y="1187" width="5" height="19"/>
<rect x="1248" y="52" width="5" height="19"/>
<rect x="1248" y="1187" width="5" height="19"/>
<rect x="1289" y="52" width="5" height="19"/>
<rect x="1289" y="1187" width="5" height="19"/>
<rect x="1324" y="52" width="5" height="19"/>
<rect x="1324" y="1187" width="5" height="19"/>
<rect x="1355" y="52" width="5" height="19"/>
<rect x="1355" y="1187" width="5" height="19"/>
<rect x="1383" y="52" width="5" height="45"/>
<rect x="1383" y="1161" width="5" height="45"/>
<rect x="1566" y="52" width="5" height="19"/>
<rect x="1566" y="1187" width="5" height="19"/>
<rect x="1673" y="52" width="5" height="19"/>
<rect x="1673" y="1187" width="5" height="19"/>
<rect x="1749" y="52" width="5" height="19"/>
<rect x="1749" y="1187" width="5" height="19"/>
<rect x="166" y="1058" width="19" height="4"/>
<rect x="1794" y="1058" width="19" height="4"/>
<rect x="166" y="914" width="42" height="5"/>
<rect x="1771" y="914" width="42" height="5"/>
<rect x="166" y="770" width="19" height="5"/>
<rect x="1794" y="770" width="19" height="5"/>
<rect x="166" y="626" width="42" height="5"/>
<rect x="1771" y="626" width="42" height="5"/>
<rect x="166" y="483" width="19" height="5"/>
<rect x="1794" y="483" width="19" height="5"/>
<rect x="166" y="339" width="42" height="5"/>
<rect x="1771" y="339" width="42" height="5"/>
<rect x="166" y="195" width="19" height="5"/>
<rect x="1794" y="195" width="19" height="5"/>
</g>
<text class="tk" x="170.0" y="1263" text-anchor="middle">10</text>
<text class="tk" x="778.4" y="1263" text-anchor="middle">100</text>
<text class="tk" x="1386.8" y="1263" text-anchor="middle">1000</text>
<text class="tk" x="154" y="1224.5" text-anchor="end">0</text>
<text class="tk" x="156.0" y="937.1" text-anchor="end">1</text>
<text class="tk" x="154" y="649.8" text-anchor="end">2</text>
<text class="tk" x="154" y="362.4" text-anchor="end">3</text>
<text class="tk" x="154" y="75.0" text-anchor="end">4</text>
<text x="991.3" y="1322.6" text-anchor="middle" style="font-size:63px;letter-spacing:0.3px">E (eV)</text>
<g transform="translate(97.0,1018.5) rotate(-90)" style="font-size:56.5px"><text x="0" y="0">BEB ionization cross sections (</text><text transform="translate(709.3,0) scale(1.07,1)" x="0" y="0" style="font-family:'Noto Serif CJK SC','Liberation Serif',serif;font-weight:500;font-size:52.4px">Å</text><text x="750.2" y="-58" style="font-size:28.25px">2</text><text x="764.2" y="0">)</text></g>
<g fill="#000" shape-rendering="crispEdges">
<rect x="1151" y="134" width="447" height="272" fill="#fff"/>
<rect x="1151" y="134" width="447" height="4"/>
<rect x="1151" y="401" width="447" height="5"/>
<rect x="1151" y="134" width="5" height="272"/>
<rect x="1593" y="134" width="5" height="272"/>
</g>
<path class="cv" d="M1172,177.5 H1255" stroke="#ff00ff" stroke-width="5" stroke-dasharray="20 10 5 10 19 11 20 99"/>
<text class="lg" x="1288" y="190.6">Only 3<tspan x="1489.5">MO</tspan></text>
<path class="cv" d="M1172,241.5 H1255" stroke="#008b00" stroke-width="5" stroke-dasharray="5 10 20 10 5 10 19 99"/>
<text class="lg" x="1288" y="263">10 free e<tspan dx="-1.3" dy="-33.6" style="font-size:40px">-</tspan></text>
<path class="cv" d="M1172,303 H1255" stroke="#7221bc" stroke-width="4" stroke-dasharray="27 10"/>
<text class="lg" x="1288" y="325">12 free e<tspan dx="-1.3" dy="-33.6" style="font-size:40px">-</tspan></text>
<path class="cv" d="M1172,364 H1255" stroke="#ff0000" stroke-width="6" stroke-dasharray="6 13.75"/>
<text class="lg" x="1288" y="386">26 total e<tspan dx="-1.3" dy="-33.6" style="font-size:40px">-</tspan></text>
<text transform="translate(1444.4,191.2) scale(0.79,0.94)" x="0" y="0" style="font-family:'Noto Serif CJK SC','Liberation Serif',serif;font-weight:bold;font-size:56.5px">π</text>
</svg></body></html>
